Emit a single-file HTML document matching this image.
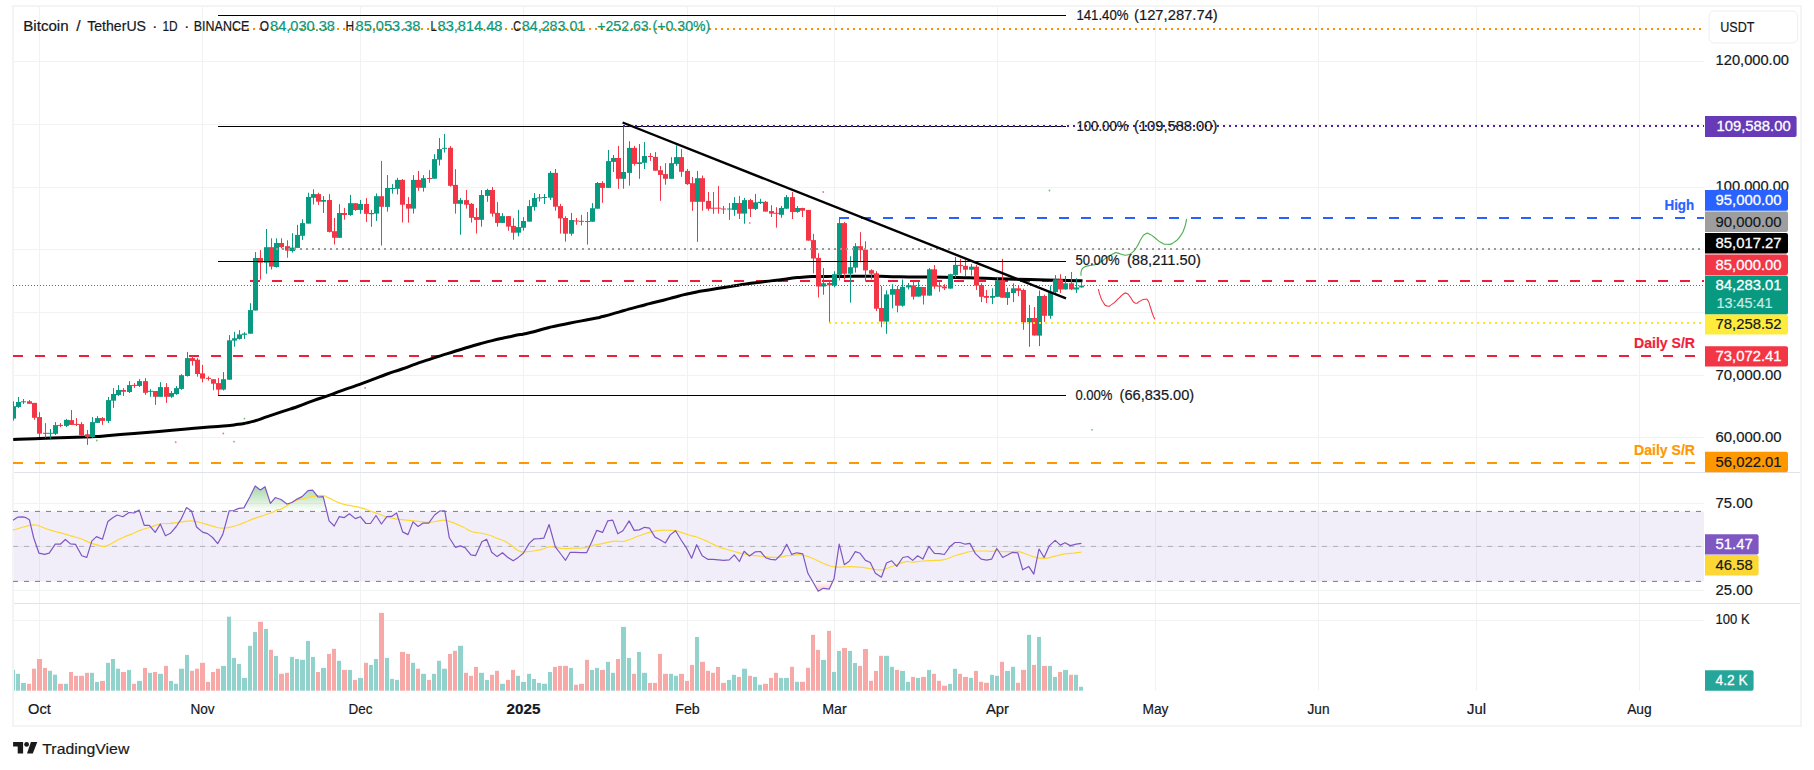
<!DOCTYPE html>
<html><head><meta charset="utf-8"><title>BTCUSDT</title><style>html,body{margin:0;padding:0;background:#fff}svg{display:block}</style></head><body><svg width="1814" height="770" viewBox="0 0 1814 770" font-family="Liberation Sans, sans-serif" shape-rendering="auto">
<rect width="1814" height="770" fill="#fff"/>
<rect x="13" y="6" width="1788" height="720" fill="none" stroke="#f4f4f4" stroke-width="2"/>
<line x1="39.5" y1="7" x2="39.5" y2="690.5" stroke="#f1f3f3" stroke-width="1"/>
<line x1="202.5" y1="7" x2="202.5" y2="690.5" stroke="#f1f3f3" stroke-width="1"/>
<line x1="360.5" y1="7" x2="360.5" y2="690.5" stroke="#f1f3f3" stroke-width="1"/>
<line x1="523.5" y1="7" x2="523.5" y2="690.5" stroke="#f1f3f3" stroke-width="1"/>
<line x1="687.5" y1="7" x2="687.5" y2="690.5" stroke="#f1f3f3" stroke-width="1"/>
<line x1="834.5" y1="7" x2="834.5" y2="690.5" stroke="#f1f3f3" stroke-width="1"/>
<line x1="997.5" y1="7" x2="997.5" y2="690.5" stroke="#f1f3f3" stroke-width="1"/>
<line x1="1155.5" y1="7" x2="1155.5" y2="690.5" stroke="#f1f3f3" stroke-width="1"/>
<line x1="1318.5" y1="7" x2="1318.5" y2="690.5" stroke="#f1f3f3" stroke-width="1"/>
<line x1="1476.5" y1="7" x2="1476.5" y2="690.5" stroke="#f1f3f3" stroke-width="1"/>
<line x1="1639.5" y1="7" x2="1639.5" y2="690.5" stroke="#f1f3f3" stroke-width="1"/>
<line x1="14.0" y1="61.5" x2="1704.0" y2="61.5" stroke="#f1f3f3" stroke-width="1" />
<line x1="14.0" y1="124.5" x2="1704.0" y2="124.5" stroke="#f1f3f3" stroke-width="1" />
<line x1="14.0" y1="187.5" x2="1704.0" y2="187.5" stroke="#f1f3f3" stroke-width="1" />
<line x1="14.0" y1="249.5" x2="1704.0" y2="249.5" stroke="#f1f3f3" stroke-width="1" />
<line x1="14.0" y1="312.5" x2="1704.0" y2="312.5" stroke="#f1f3f3" stroke-width="1" />
<line x1="14.0" y1="375.5" x2="1704.0" y2="375.5" stroke="#f1f3f3" stroke-width="1" />
<line x1="14.0" y1="437.5" x2="1704.0" y2="437.5" stroke="#f1f3f3" stroke-width="1" />
<line x1="14.0" y1="503.5" x2="1704.0" y2="503.5" stroke="#f1f3f3" stroke-width="1" />
<line x1="14.0" y1="546.5" x2="1704.0" y2="546.5" stroke="#f1f3f3" stroke-width="1" />
<line x1="14.0" y1="590.5" x2="1704.0" y2="590.5" stroke="#f1f3f3" stroke-width="1" />
<line x1="14.0" y1="620.5" x2="1704.0" y2="620.5" stroke="#f1f3f3" stroke-width="1" />
<line x1="14.0" y1="472.5" x2="1800.0" y2="472.5" stroke="#e0e3eb" stroke-width="1" />
<line x1="14.0" y1="603.5" x2="1800.0" y2="603.5" stroke="#e0e3eb" stroke-width="1" />
<rect x="14" y="511.4" width="1690" height="70.0" fill="#7e57c2" fill-opacity="0.1"/>
<defs><linearGradient id="gob" gradientUnits="userSpaceOnUse" x1="0" y1="484" x2="0" y2="511.4"><stop offset="0" stop-color="#4caf50" stop-opacity="0.55"/><stop offset="1" stop-color="#4caf50" stop-opacity="0"/></linearGradient><linearGradient id="gos" gradientUnits="userSpaceOnUse" x1="0" y1="581.4" x2="0" y2="592"><stop offset="0" stop-color="#f23645" stop-opacity="0"/><stop offset="1" stop-color="#f23645" stop-opacity="0.3"/></linearGradient><clipPath id="cob"><rect x="0" y="470" width="1814" height="41.39999999999998"/></clipPath><clipPath id="cos"><rect x="0" y="581.4" width="1814" height="30"/></clipPath></defs>
<g clip-path="url(#cob)"><rect x="0" y="485" width="0" height="0"/><path d="M13.0,520.3 L17.6,517.2 L22.7,516.9 L26.0,517.7 L29.4,519.7 L33.6,537.5 L39.0,553.2 L44.6,554.4 L49.2,553.2 L55.3,544.2 L60.3,544.2 L65.4,539.5 L70.5,543.9 L75.5,544.4 L81.8,555.7 L86.8,557.4 L91.9,540.9 L96.5,536.6 L102.5,539.2 L107.9,521.4 L112.7,517.7 L117.2,515.0 L122.8,516.7 L129.0,512.5 L134.1,513.0 L139.2,510.1 L144.2,525.3 L149.3,525.3 L155.2,532.4 L160.3,524.0 L165.4,535.8 L170.4,533.3 L176.3,526.5 L181.4,518.6 L186.5,507.6 L191.5,511.0 L196.6,527.0 L202.5,532.1 L207.6,533.6 L212.6,537.5 L217.7,543.7 L222.8,534.4 L229.2,510.8 L233.7,510.5 L238.8,508.4 L243.9,507.9 L249.8,497.0 L255.2,486.0 L260.3,489.9 L265.0,486.8 L270.4,503.4 L275.1,497.8 L275.1,497.5 L281.0,499.5 L286.9,504.0 L292.0,502.5 L297.0,499.1 L302.1,496.6 L308.0,490.7 L312.6,490.2 L318.1,497.0 L323.2,496.6 L329.1,520.9 L334.2,526.0 L339.2,516.7 L344.3,517.6 L349.4,513.8 L355.3,518.6 L360.3,516.7 L365.9,523.5 L370.5,523.5 L376.0,515.5 L381.4,524.0 L386.9,516.7 L391.6,516.4 L396.6,513.0 L402.6,531.9 L408.0,534.6 L413.0,521.9 L418.1,526.5 L423.2,523.1 L428.7,523.1 L434.6,515.0 L439.7,511.0 L444.8,510.8 L449.3,537.8 L455.4,547.3 L460.3,545.9 L465.0,547.6 L470.9,554.9 L475.5,555.7 L481.9,541.7 L486.6,539.2 L491.7,552.2 L497.1,556.6 L502.5,552.7 L507.6,557.2 L513.2,560.8 L518.2,557.4 L523.3,553.2 L529.2,543.4 L534.2,538.8 L539.3,538.7 L543.8,538.2 L549.1,524.5 L555.3,546.8 L560.4,553.5 L565.5,560.3 L570.2,552.3 L575.6,552.3 L580.7,552.7 L586.6,552.7 L591.6,542.2 L596.7,530.4 L602.6,532.4 L607.7,520.9 L612.7,520.1 L617.8,533.8 L622.9,530.7 L629.1,520.9 L634.2,530.4 L639.3,529.9 L644.5,527.3 L649.6,528.2 L655.0,537.1 L660.0,539.7 L665.4,542.9 L670.2,534.9 L675.6,530.7 L681.1,540.0 L686.2,547.6 L691.6,558.2 L696.7,544.7 L702.2,555.7 L708.1,559.4 L713.2,559.4 L718.3,559.8 L723.7,560.3 L729.3,559.9 L734.3,554.9 L739.4,561.5 L744.1,551.3 L749.5,556.1 L755.4,551.8 L760.5,551.5 L765.6,557.7 L770.6,559.4 L775.7,559.9 L781.6,554.0 L786.7,544.2 L791.7,554.4 L796.8,552.7 L797.2,552.8 L802.8,553.9 L807.9,573.3 L813.1,582.3 L818.2,591.2 L823.3,588.3 L829.3,589.1 L834.1,578.4 L839.2,544.2 L844.3,564.7 L849.3,561.3 L855.3,551.6 L860.1,553.3 L865.5,560.4 L870.3,562.5 L875.4,573.3 L881.4,577.2 L886.5,563.0 L891.7,560.8 L896.8,566.4 L902.8,557.5 L907.9,556.5 L912.7,560.4 L917.6,555.8 L922.9,559.1 L928.8,546.4 L934.4,553.3 L939.5,553.6 L944.3,554.5 L949.8,546.8 L954.9,542.5 L960.0,542.5 L965.2,544.2 L969.9,543.4 L975.4,553.6 L981.4,559.2 L986.5,560.1 L991.6,559.2 L996.8,548.5 L1002.7,557.5 L1007.9,554.8 L1012.1,552.4 L1017.8,552.8 L1022.7,569.8 L1028.7,566.4 L1033.8,574.1 L1039.0,549.0 L1044.1,557.5 L1049.2,545.9 L1055.2,540.4 L1060.3,545.1 L1065.1,542.8 L1070.2,545.6 L1076.2,544.2 L1081.4,543.4 L1081.4,511.4 L13.0,511.4 Z" fill="url(#gob)"/></g>
<g clip-path="url(#cos)"><path d="M13.0,520.3 L17.6,517.2 L22.7,516.9 L26.0,517.7 L29.4,519.7 L33.6,537.5 L39.0,553.2 L44.6,554.4 L49.2,553.2 L55.3,544.2 L60.3,544.2 L65.4,539.5 L70.5,543.9 L75.5,544.4 L81.8,555.7 L86.8,557.4 L91.9,540.9 L96.5,536.6 L102.5,539.2 L107.9,521.4 L112.7,517.7 L117.2,515.0 L122.8,516.7 L129.0,512.5 L134.1,513.0 L139.2,510.1 L144.2,525.3 L149.3,525.3 L155.2,532.4 L160.3,524.0 L165.4,535.8 L170.4,533.3 L176.3,526.5 L181.4,518.6 L186.5,507.6 L191.5,511.0 L196.6,527.0 L202.5,532.1 L207.6,533.6 L212.6,537.5 L217.7,543.7 L222.8,534.4 L229.2,510.8 L233.7,510.5 L238.8,508.4 L243.9,507.9 L249.8,497.0 L255.2,486.0 L260.3,489.9 L265.0,486.8 L270.4,503.4 L275.1,497.8 L275.1,497.5 L281.0,499.5 L286.9,504.0 L292.0,502.5 L297.0,499.1 L302.1,496.6 L308.0,490.7 L312.6,490.2 L318.1,497.0 L323.2,496.6 L329.1,520.9 L334.2,526.0 L339.2,516.7 L344.3,517.6 L349.4,513.8 L355.3,518.6 L360.3,516.7 L365.9,523.5 L370.5,523.5 L376.0,515.5 L381.4,524.0 L386.9,516.7 L391.6,516.4 L396.6,513.0 L402.6,531.9 L408.0,534.6 L413.0,521.9 L418.1,526.5 L423.2,523.1 L428.7,523.1 L434.6,515.0 L439.7,511.0 L444.8,510.8 L449.3,537.8 L455.4,547.3 L460.3,545.9 L465.0,547.6 L470.9,554.9 L475.5,555.7 L481.9,541.7 L486.6,539.2 L491.7,552.2 L497.1,556.6 L502.5,552.7 L507.6,557.2 L513.2,560.8 L518.2,557.4 L523.3,553.2 L529.2,543.4 L534.2,538.8 L539.3,538.7 L543.8,538.2 L549.1,524.5 L555.3,546.8 L560.4,553.5 L565.5,560.3 L570.2,552.3 L575.6,552.3 L580.7,552.7 L586.6,552.7 L591.6,542.2 L596.7,530.4 L602.6,532.4 L607.7,520.9 L612.7,520.1 L617.8,533.8 L622.9,530.7 L629.1,520.9 L634.2,530.4 L639.3,529.9 L644.5,527.3 L649.6,528.2 L655.0,537.1 L660.0,539.7 L665.4,542.9 L670.2,534.9 L675.6,530.7 L681.1,540.0 L686.2,547.6 L691.6,558.2 L696.7,544.7 L702.2,555.7 L708.1,559.4 L713.2,559.4 L718.3,559.8 L723.7,560.3 L729.3,559.9 L734.3,554.9 L739.4,561.5 L744.1,551.3 L749.5,556.1 L755.4,551.8 L760.5,551.5 L765.6,557.7 L770.6,559.4 L775.7,559.9 L781.6,554.0 L786.7,544.2 L791.7,554.4 L796.8,552.7 L797.2,552.8 L802.8,553.9 L807.9,573.3 L813.1,582.3 L818.2,591.2 L823.3,588.3 L829.3,589.1 L834.1,578.4 L839.2,544.2 L844.3,564.7 L849.3,561.3 L855.3,551.6 L860.1,553.3 L865.5,560.4 L870.3,562.5 L875.4,573.3 L881.4,577.2 L886.5,563.0 L891.7,560.8 L896.8,566.4 L902.8,557.5 L907.9,556.5 L912.7,560.4 L917.6,555.8 L922.9,559.1 L928.8,546.4 L934.4,553.3 L939.5,553.6 L944.3,554.5 L949.8,546.8 L954.9,542.5 L960.0,542.5 L965.2,544.2 L969.9,543.4 L975.4,553.6 L981.4,559.2 L986.5,560.1 L991.6,559.2 L996.8,548.5 L1002.7,557.5 L1007.9,554.8 L1012.1,552.4 L1017.8,552.8 L1022.7,569.8 L1028.7,566.4 L1033.8,574.1 L1039.0,549.0 L1044.1,557.5 L1049.2,545.9 L1055.2,540.4 L1060.3,545.1 L1065.1,542.8 L1070.2,545.6 L1076.2,544.2 L1081.4,543.4 L1081.4,581.4 L13.0,581.4 Z" fill="url(#gos)"/></g>
<line x1="13.0" y1="511.4" x2="1704.0" y2="511.4" stroke="#787b86" stroke-width="1" stroke-dasharray="5 6" />
<line x1="13.0" y1="546.4" x2="1704.0" y2="546.4" stroke="#787b86" stroke-width="1" stroke-dasharray="5 6" stroke-opacity="0.5"/>
<line x1="13.0" y1="581.4" x2="1704.0" y2="581.4" stroke="#787b86" stroke-width="1" stroke-dasharray="5 6" />
<path d="M13.0 530.2C15.8 529.4 18.0 528.5 23.5 527.0C29.0 525.6 29.1 524.9 33.6 524.8C38.1 524.7 36.1 525.2 40.4 526.5C44.7 527.9 44.3 528.2 49.7 529.9C55.1 531.6 55.0 531.3 60.7 532.9C66.3 534.5 65.4 534.2 70.8 535.8C76.2 537.4 75.5 536.9 80.9 538.8C86.3 540.8 85.4 541.1 91.1 543.1C96.7 545.0 97.8 545.6 102.0 546.3C106.3 546.9 103.7 546.8 107.1 545.6C110.5 544.4 110.4 543.9 114.7 541.7C119.0 539.5 118.6 539.5 123.1 537.5C127.6 535.5 127.1 536.0 131.6 534.1C136.1 532.2 135.1 532.2 140.0 530.4C145.0 528.6 144.8 529.1 150.2 527.3C155.6 525.6 155.3 525.0 160.3 524.0C165.2 522.9 163.8 523.9 168.7 523.5C173.7 523.0 173.9 522.9 178.9 522.3C183.8 521.7 183.5 521.4 187.3 521.1C191.1 520.8 189.2 520.6 193.2 521.1C197.3 521.6 197.3 521.8 202.5 523.1C207.7 524.5 207.2 524.8 212.6 526.2C218.0 527.5 217.4 528.1 222.8 528.2C228.2 528.3 227.5 527.9 232.9 526.5C238.3 525.2 237.6 525.2 243.0 523.1C248.4 521.1 247.8 520.9 253.2 518.9C258.6 516.9 258.3 517.2 263.3 515.5C268.2 513.8 267.9 514.1 271.7 512.5C275.6 510.9 275.4 510.4 277.6 509.6C279.9 508.9 277.7 510.7 280.1 509.6C282.6 508.6 282.8 508.1 286.9 505.7C290.9 503.4 290.8 502.7 295.3 500.8C299.8 498.9 298.8 499.9 303.8 498.6C308.7 497.4 308.7 496.9 313.9 496.1C319.1 495.3 319.1 495.1 323.2 495.6C327.2 496.1 324.8 496.2 329.1 498.1C333.4 500.1 333.8 500.9 339.2 502.9C344.6 504.8 343.7 504.1 349.4 505.4C355.0 506.7 354.7 506.1 360.3 507.6C366.0 509.1 365.7 509.3 370.5 511.0C375.2 512.6 373.3 512.2 378.1 513.8C382.8 515.5 382.8 515.8 388.2 517.2C393.6 518.7 392.9 518.4 398.3 519.2C403.7 520.1 403.1 519.7 408.5 520.3C413.9 520.8 413.2 520.9 418.6 521.4C424.0 522.0 423.3 522.4 428.7 522.3C434.1 522.1 434.6 521.5 438.9 520.9C443.1 520.4 440.7 519.7 444.8 520.3C448.8 520.8 449.3 521.4 454.1 523.1C458.8 524.9 458.0 524.7 462.5 526.8C467.0 529.0 467.5 529.7 470.9 531.2C474.4 532.7 472.6 531.9 475.5 532.4C478.4 533.0 478.2 532.5 481.9 533.3C485.7 534.0 485.5 533.9 489.5 535.3C493.6 536.6 493.1 536.7 497.1 538.3C501.2 539.9 500.9 539.3 504.7 541.2C508.5 543.1 507.9 543.1 511.5 545.6C515.1 548.1 514.6 548.8 518.2 550.5C521.8 552.1 519.6 551.9 525.0 551.8C530.4 551.7 533.3 551.0 538.4 550.1C543.6 549.2 541.5 549.4 544.4 548.5C547.2 547.6 546.2 547.1 549.1 546.8C552.0 546.5 551.4 546.8 555.3 547.3C559.2 547.7 558.8 548.2 563.8 548.5C568.7 548.7 569.4 548.2 573.9 548.1C578.4 548.0 577.3 548.3 580.7 548.1C584.0 547.9 582.3 548.2 586.6 547.3C590.8 546.3 592.4 545.5 596.7 544.6C601.0 543.6 598.3 544.6 602.6 543.7C606.9 542.9 607.3 542.0 612.7 541.4C618.1 540.7 618.5 541.8 622.9 541.4C627.2 540.9 624.8 541.2 629.1 539.7C633.5 538.2 633.8 537.7 639.3 535.8C644.7 533.9 644.0 533.9 649.6 532.4C655.1 531.0 654.5 530.9 660.0 530.4C665.5 529.8 666.0 530.3 670.2 530.4C674.3 530.5 671.3 529.7 675.6 530.7C679.8 531.7 681.9 532.8 686.2 534.1C690.5 535.5 688.8 535.0 691.6 535.8C694.4 536.6 692.3 535.4 696.7 537.0C701.1 538.5 702.4 539.1 708.1 541.7C713.9 544.3 714.1 545.0 718.3 546.8C722.4 548.6 719.4 547.2 723.7 548.5C728.0 549.7 728.9 550.0 734.3 551.5C739.8 553.0 738.5 552.9 744.1 554.0C749.7 555.2 749.7 555.0 755.4 555.7C761.1 556.4 760.8 556.1 765.6 556.6C770.3 557.0 768.9 557.3 773.2 557.4C777.4 557.5 778.0 557.3 781.6 556.9C785.2 556.4 784.4 556.0 786.7 555.7C788.9 555.4 787.3 555.9 790.0 555.7C792.7 555.4 793.4 555.0 796.8 554.8C800.3 554.6 799.2 554.2 802.8 555.0C806.5 555.7 806.4 555.9 810.5 557.5C814.6 559.1 814.1 559.1 818.2 561.0C822.3 562.8 821.6 562.8 825.9 564.4C830.1 566.0 829.1 566.3 834.1 566.9C839.1 567.6 839.0 566.8 844.7 566.8C850.3 566.7 849.7 566.5 855.3 566.8C860.8 567.0 860.2 567.1 865.5 567.8C870.9 568.5 871.2 569.0 875.4 569.5C879.7 570.0 878.5 570.1 881.4 569.8C884.4 569.6 882.4 569.8 886.5 568.5C890.6 567.1 891.6 566.5 896.8 564.7C902.0 562.9 902.0 562.3 906.2 561.6C910.4 561.0 908.1 562.3 912.7 562.1C917.2 562.0 917.5 561.4 923.3 561.0C929.1 560.5 928.8 560.8 934.4 560.4C940.0 560.1 938.8 560.8 944.3 559.6C949.8 558.4 949.3 557.6 954.9 555.8C960.5 554.0 960.8 553.9 965.2 552.8C969.5 551.6 968.4 551.8 971.1 551.4C973.9 550.9 971.3 551.1 975.4 551.0C979.5 551.0 982.2 551.0 986.5 551.0C990.8 551.1 988.9 551.5 991.6 551.4C994.4 551.3 993.8 550.7 996.8 550.7C999.7 550.7 998.6 551.3 1002.7 551.6C1006.8 551.8 1008.0 551.6 1012.1 551.6C1016.2 551.5 1014.0 550.6 1018.1 551.4C1022.2 552.2 1023.2 553.0 1027.5 554.5C1031.9 556.0 1029.8 556.0 1034.4 557.0C1038.9 558.1 1039.1 558.6 1044.6 558.4C1050.1 558.2 1049.4 557.4 1054.9 556.2C1060.3 555.0 1060.1 554.8 1065.1 553.9C1070.1 553.1 1069.3 553.5 1073.7 553.1C1078.0 552.6 1079.3 552.5 1081.4 552.2" fill="none" stroke="#fdd835" stroke-width="1.2" stroke-linejoin="round"/>
<polyline points="13.0,520.3 17.6,517.2 22.7,516.9 26.0,517.7 29.4,519.7 33.6,537.5 39.0,553.2 44.6,554.4 49.2,553.2 55.3,544.2 60.3,544.2 65.4,539.5 70.5,543.9 75.5,544.4 81.8,555.7 86.8,557.4 91.9,540.9 96.5,536.6 102.5,539.2 107.9,521.4 112.7,517.7 117.2,515.0 122.8,516.7 129.0,512.5 134.1,513.0 139.2,510.1 144.2,525.3 149.3,525.3 155.2,532.4 160.3,524.0 165.4,535.8 170.4,533.3 176.3,526.5 181.4,518.6 186.5,507.6 191.5,511.0 196.6,527.0 202.5,532.1 207.6,533.6 212.6,537.5 217.7,543.7 222.8,534.4 229.2,510.8 233.7,510.5 238.8,508.4 243.9,507.9 249.8,497.0 255.2,486.0 260.3,489.9 265.0,486.8 270.4,503.4 275.1,497.8 275.1,497.5 281.0,499.5 286.9,504.0 292.0,502.5 297.0,499.1 302.1,496.6 308.0,490.7 312.6,490.2 318.1,497.0 323.2,496.6 329.1,520.9 334.2,526.0 339.2,516.7 344.3,517.6 349.4,513.8 355.3,518.6 360.3,516.7 365.9,523.5 370.5,523.5 376.0,515.5 381.4,524.0 386.9,516.7 391.6,516.4 396.6,513.0 402.6,531.9 408.0,534.6 413.0,521.9 418.1,526.5 423.2,523.1 428.7,523.1 434.6,515.0 439.7,511.0 444.8,510.8 449.3,537.8 455.4,547.3 460.3,545.9 465.0,547.6 470.9,554.9 475.5,555.7 481.9,541.7 486.6,539.2 491.7,552.2 497.1,556.6 502.5,552.7 507.6,557.2 513.2,560.8 518.2,557.4 523.3,553.2 529.2,543.4 534.2,538.8 539.3,538.7 543.8,538.2 549.1,524.5 555.3,546.8 560.4,553.5 565.5,560.3 570.2,552.3 575.6,552.3 580.7,552.7 586.6,552.7 591.6,542.2 596.7,530.4 602.6,532.4 607.7,520.9 612.7,520.1 617.8,533.8 622.9,530.7 629.1,520.9 634.2,530.4 639.3,529.9 644.5,527.3 649.6,528.2 655.0,537.1 660.0,539.7 665.4,542.9 670.2,534.9 675.6,530.7 681.1,540.0 686.2,547.6 691.6,558.2 696.7,544.7 702.2,555.7 708.1,559.4 713.2,559.4 718.3,559.8 723.7,560.3 729.3,559.9 734.3,554.9 739.4,561.5 744.1,551.3 749.5,556.1 755.4,551.8 760.5,551.5 765.6,557.7 770.6,559.4 775.7,559.9 781.6,554.0 786.7,544.2 791.7,554.4 796.8,552.7 797.2,552.8 802.8,553.9 807.9,573.3 813.1,582.3 818.2,591.2 823.3,588.3 829.3,589.1 834.1,578.4 839.2,544.2 844.3,564.7 849.3,561.3 855.3,551.6 860.1,553.3 865.5,560.4 870.3,562.5 875.4,573.3 881.4,577.2 886.5,563.0 891.7,560.8 896.8,566.4 902.8,557.5 907.9,556.5 912.7,560.4 917.6,555.8 922.9,559.1 928.8,546.4 934.4,553.3 939.5,553.6 944.3,554.5 949.8,546.8 954.9,542.5 960.0,542.5 965.2,544.2 969.9,543.4 975.4,553.6 981.4,559.2 986.5,560.1 991.6,559.2 996.8,548.5 1002.7,557.5 1007.9,554.8 1012.1,552.4 1017.8,552.8 1022.7,569.8 1028.7,566.4 1033.8,574.1 1039.0,549.0 1044.1,557.5 1049.2,545.9 1055.2,540.4 1060.3,545.1 1065.1,542.8 1070.2,545.6 1076.2,544.2 1081.4,543.4" fill="none" stroke="#7e57c2" stroke-width="1.2" stroke-linejoin="round"/>
<rect x="14.0" y="669.9" width="1.0" height="20.8" fill="#92d2cc"/>
<rect x="16.0" y="673.8" width="4.0" height="16.9" fill="#92d2cc"/>
<rect x="21.0" y="682.9" width="5.0" height="7.8" fill="#92d2cc"/>
<rect x="27.0" y="683.8" width="4.0" height="6.9" fill="#f7a9a7"/>
<rect x="32.0" y="668.7" width="4.0" height="22.0" fill="#f7a9a7"/>
<rect x="37.0" y="659.0" width="5.0" height="31.7" fill="#f7a9a7"/>
<rect x="43.0" y="667.9" width="4.0" height="22.8" fill="#f7a9a7"/>
<rect x="48.0" y="670.8" width="4.0" height="19.9" fill="#92d2cc"/>
<rect x="53.0" y="674.7" width="4.0" height="16.0" fill="#92d2cc"/>
<rect x="58.0" y="683.8" width="5.0" height="6.9" fill="#f7a9a7"/>
<rect x="64.0" y="683.8" width="4.0" height="6.9" fill="#92d2cc"/>
<rect x="69.0" y="672.0" width="4.0" height="18.7" fill="#f7a9a7"/>
<rect x="74.0" y="675.8" width="4.0" height="14.9" fill="#f7a9a7"/>
<rect x="79.0" y="675.8" width="5.0" height="14.9" fill="#f7a9a7"/>
<rect x="85.0" y="672.8" width="4.0" height="17.9" fill="#f7a9a7"/>
<rect x="90.0" y="672.8" width="4.0" height="17.9" fill="#92d2cc"/>
<rect x="95.0" y="681.9" width="4.0" height="8.8" fill="#92d2cc"/>
<rect x="100.0" y="680.9" width="5.0" height="9.8" fill="#f7a9a7"/>
<rect x="106.0" y="662.8" width="4.0" height="27.9" fill="#92d2cc"/>
<rect x="111.0" y="659.0" width="4.0" height="31.7" fill="#92d2cc"/>
<rect x="116.0" y="668.7" width="4.0" height="22.0" fill="#92d2cc"/>
<rect x="121.0" y="672.0" width="5.0" height="18.7" fill="#f7a9a7"/>
<rect x="127.0" y="669.9" width="4.0" height="20.8" fill="#92d2cc"/>
<rect x="132.0" y="683.8" width="4.0" height="6.9" fill="#f7a9a7"/>
<rect x="137.0" y="680.9" width="5.0" height="9.8" fill="#92d2cc"/>
<rect x="143.0" y="667.9" width="4.0" height="22.8" fill="#f7a9a7"/>
<rect x="148.0" y="672.8" width="4.0" height="17.9" fill="#92d2cc"/>
<rect x="153.0" y="672.0" width="4.0" height="18.7" fill="#f7a9a7"/>
<rect x="158.0" y="673.8" width="5.0" height="16.9" fill="#92d2cc"/>
<rect x="164.0" y="665.9" width="4.0" height="24.8" fill="#f7a9a7"/>
<rect x="169.0" y="680.9" width="4.0" height="9.8" fill="#92d2cc"/>
<rect x="174.0" y="683.8" width="4.0" height="6.9" fill="#92d2cc"/>
<rect x="179.0" y="668.7" width="5.0" height="22.0" fill="#92d2cc"/>
<rect x="185.0" y="654.9" width="4.0" height="35.8" fill="#92d2cc"/>
<rect x="190.0" y="670.8" width="4.0" height="19.9" fill="#f7a9a7"/>
<rect x="195.0" y="668.7" width="4.0" height="22.0" fill="#f7a9a7"/>
<rect x="200.0" y="662.8" width="5.0" height="27.9" fill="#f7a9a7"/>
<rect x="206.0" y="681.9" width="4.0" height="8.8" fill="#f7a9a7"/>
<rect x="211.0" y="672.0" width="4.0" height="18.7" fill="#f7a9a7"/>
<rect x="216.0" y="668.7" width="4.0" height="22.0" fill="#f7a9a7"/>
<rect x="221.0" y="665.9" width="5.0" height="24.8" fill="#92d2cc"/>
<rect x="227.0" y="616.7" width="4.0" height="74.0" fill="#92d2cc"/>
<rect x="232.0" y="657.9" width="4.0" height="32.8" fill="#92d2cc"/>
<rect x="237.0" y="663.9" width="4.0" height="26.8" fill="#92d2cc"/>
<rect x="242.0" y="677.9" width="5.0" height="12.8" fill="#92d2cc"/>
<rect x="248.0" y="645.8" width="4.0" height="44.9" fill="#92d2cc"/>
<rect x="253.0" y="631.9" width="4.0" height="58.8" fill="#92d2cc"/>
<rect x="258.0" y="621.8" width="5.0" height="68.9" fill="#f7a9a7"/>
<rect x="264.0" y="628.9" width="4.0" height="61.8" fill="#92d2cc"/>
<rect x="269.0" y="649.8" width="4.0" height="40.9" fill="#f7a9a7"/>
<rect x="274.0" y="655.9" width="4.0" height="34.8" fill="#92d2cc"/>
<rect x="279.0" y="673.8" width="5.0" height="16.9" fill="#f7a9a7"/>
<rect x="285.0" y="672.8" width="4.0" height="17.9" fill="#f7a9a7"/>
<rect x="290.0" y="656.9" width="4.0" height="33.8" fill="#92d2cc"/>
<rect x="295.0" y="659.0" width="4.0" height="31.7" fill="#92d2cc"/>
<rect x="300.0" y="659.8" width="5.0" height="30.9" fill="#92d2cc"/>
<rect x="306.0" y="640.9" width="4.0" height="49.8" fill="#92d2cc"/>
<rect x="311.0" y="656.9" width="4.0" height="33.8" fill="#92d2cc"/>
<rect x="316.0" y="672.0" width="4.0" height="18.7" fill="#f7a9a7"/>
<rect x="321.0" y="667.9" width="5.0" height="22.8" fill="#92d2cc"/>
<rect x="327.0" y="653.9" width="4.0" height="36.8" fill="#f7a9a7"/>
<rect x="332.0" y="648.8" width="4.0" height="41.9" fill="#f7a9a7"/>
<rect x="337.0" y="660.8" width="4.0" height="29.9" fill="#92d2cc"/>
<rect x="342.0" y="669.9" width="5.0" height="20.8" fill="#f7a9a7"/>
<rect x="348.0" y="669.9" width="4.0" height="20.8" fill="#92d2cc"/>
<rect x="353.0" y="679.9" width="4.0" height="10.8" fill="#f7a9a7"/>
<rect x="358.0" y="677.9" width="5.0" height="12.8" fill="#92d2cc"/>
<rect x="364.0" y="662.8" width="4.0" height="27.9" fill="#f7a9a7"/>
<rect x="369.0" y="664.9" width="4.0" height="25.8" fill="#92d2cc"/>
<rect x="374.0" y="659.0" width="4.0" height="31.7" fill="#92d2cc"/>
<rect x="379.0" y="612.9" width="5.0" height="77.8" fill="#f7a9a7"/>
<rect x="385.0" y="657.9" width="4.0" height="32.8" fill="#92d2cc"/>
<rect x="390.0" y="678.9" width="4.0" height="11.8" fill="#92d2cc"/>
<rect x="395.0" y="679.9" width="4.0" height="10.8" fill="#92d2cc"/>
<rect x="400.0" y="651.9" width="5.0" height="38.8" fill="#f7a9a7"/>
<rect x="406.0" y="653.9" width="4.0" height="36.8" fill="#f7a9a7"/>
<rect x="411.0" y="662.8" width="4.0" height="27.9" fill="#92d2cc"/>
<rect x="416.0" y="668.7" width="4.0" height="22.0" fill="#f7a9a7"/>
<rect x="421.0" y="673.8" width="5.0" height="16.9" fill="#92d2cc"/>
<rect x="427.0" y="679.9" width="4.0" height="10.8" fill="#f7a9a7"/>
<rect x="432.0" y="673.8" width="4.0" height="16.9" fill="#92d2cc"/>
<rect x="437.0" y="660.8" width="4.0" height="29.9" fill="#92d2cc"/>
<rect x="442.0" y="668.7" width="5.0" height="22.0" fill="#92d2cc"/>
<rect x="448.0" y="653.9" width="4.0" height="36.8" fill="#f7a9a7"/>
<rect x="453.0" y="650.8" width="4.0" height="39.9" fill="#f7a9a7"/>
<rect x="458.0" y="645.8" width="5.0" height="44.9" fill="#92d2cc"/>
<rect x="464.0" y="672.8" width="4.0" height="17.9" fill="#f7a9a7"/>
<rect x="469.0" y="675.8" width="4.0" height="14.9" fill="#f7a9a7"/>
<rect x="474.0" y="666.9" width="4.0" height="23.8" fill="#f7a9a7"/>
<rect x="479.0" y="672.8" width="5.0" height="17.9" fill="#92d2cc"/>
<rect x="485.0" y="679.9" width="4.0" height="10.8" fill="#92d2cc"/>
<rect x="490.0" y="674.8" width="4.0" height="15.9" fill="#f7a9a7"/>
<rect x="495.0" y="670.8" width="4.0" height="19.9" fill="#f7a9a7"/>
<rect x="500.0" y="683.8" width="5.0" height="6.9" fill="#92d2cc"/>
<rect x="506.0" y="679.9" width="4.0" height="10.8" fill="#f7a9a7"/>
<rect x="511.0" y="669.9" width="4.0" height="20.8" fill="#f7a9a7"/>
<rect x="516.0" y="675.8" width="4.0" height="14.9" fill="#92d2cc"/>
<rect x="521.0" y="681.9" width="5.0" height="8.8" fill="#92d2cc"/>
<rect x="527.0" y="673.8" width="4.0" height="16.9" fill="#92d2cc"/>
<rect x="532.0" y="678.9" width="4.0" height="11.8" fill="#92d2cc"/>
<rect x="537.0" y="682.9" width="4.0" height="7.8" fill="#92d2cc"/>
<rect x="542.0" y="683.8" width="5.0" height="6.9" fill="#92d2cc"/>
<rect x="548.0" y="672.0" width="4.0" height="18.7" fill="#92d2cc"/>
<rect x="553.0" y="666.9" width="4.0" height="23.8" fill="#f7a9a7"/>
<rect x="558.0" y="665.9" width="4.0" height="24.8" fill="#f7a9a7"/>
<rect x="563.0" y="665.9" width="5.0" height="24.8" fill="#f7a9a7"/>
<rect x="569.0" y="667.9" width="4.0" height="22.8" fill="#92d2cc"/>
<rect x="574.0" y="684.8" width="4.0" height="5.9" fill="#f7a9a7"/>
<rect x="579.0" y="683.8" width="5.0" height="6.9" fill="#f7a9a7"/>
<rect x="585.0" y="659.8" width="4.0" height="30.9" fill="#f7a9a7"/>
<rect x="590.0" y="669.9" width="4.0" height="20.8" fill="#92d2cc"/>
<rect x="595.0" y="667.9" width="4.0" height="22.8" fill="#92d2cc"/>
<rect x="600.0" y="669.9" width="5.0" height="20.8" fill="#f7a9a7"/>
<rect x="606.0" y="661.8" width="4.0" height="28.9" fill="#92d2cc"/>
<rect x="611.0" y="672.8" width="4.0" height="17.9" fill="#92d2cc"/>
<rect x="616.0" y="659.0" width="4.0" height="31.7" fill="#f7a9a7"/>
<rect x="621.0" y="626.9" width="5.0" height="63.8" fill="#92d2cc"/>
<rect x="627.0" y="657.9" width="4.0" height="32.8" fill="#92d2cc"/>
<rect x="632.0" y="673.8" width="4.0" height="16.9" fill="#f7a9a7"/>
<rect x="637.0" y="651.9" width="4.0" height="38.8" fill="#92d2cc"/>
<rect x="642.0" y="672.8" width="5.0" height="17.9" fill="#92d2cc"/>
<rect x="648.0" y="682.9" width="4.0" height="7.8" fill="#f7a9a7"/>
<rect x="653.0" y="682.9" width="4.0" height="7.8" fill="#f7a9a7"/>
<rect x="658.0" y="653.9" width="4.0" height="36.8" fill="#f7a9a7"/>
<rect x="663.0" y="673.8" width="5.0" height="16.9" fill="#f7a9a7"/>
<rect x="669.0" y="673.8" width="4.0" height="16.9" fill="#92d2cc"/>
<rect x="674.0" y="675.8" width="4.0" height="14.9" fill="#92d2cc"/>
<rect x="679.0" y="673.8" width="5.0" height="16.9" fill="#f7a9a7"/>
<rect x="685.0" y="680.9" width="4.0" height="9.8" fill="#f7a9a7"/>
<rect x="690.0" y="664.9" width="4.0" height="25.8" fill="#f7a9a7"/>
<rect x="695.0" y="637.0" width="4.0" height="53.7" fill="#92d2cc"/>
<rect x="700.0" y="661.8" width="5.0" height="28.9" fill="#f7a9a7"/>
<rect x="706.0" y="670.8" width="4.0" height="19.9" fill="#f7a9a7"/>
<rect x="711.0" y="672.8" width="4.0" height="17.9" fill="#f7a9a7"/>
<rect x="716.0" y="666.9" width="4.0" height="23.8" fill="#f7a9a7"/>
<rect x="721.0" y="682.9" width="5.0" height="7.8" fill="#f7a9a7"/>
<rect x="727.0" y="679.9" width="4.0" height="10.8" fill="#92d2cc"/>
<rect x="732.0" y="674.8" width="4.0" height="15.9" fill="#92d2cc"/>
<rect x="737.0" y="676.9" width="4.0" height="13.8" fill="#f7a9a7"/>
<rect x="742.0" y="668.7" width="5.0" height="22.0" fill="#92d2cc"/>
<rect x="748.0" y="675.8" width="4.0" height="14.9" fill="#f7a9a7"/>
<rect x="753.0" y="676.9" width="4.0" height="13.8" fill="#92d2cc"/>
<rect x="758.0" y="684.8" width="4.0" height="5.9" fill="#92d2cc"/>
<rect x="763.0" y="683.8" width="5.0" height="6.9" fill="#f7a9a7"/>
<rect x="769.0" y="677.9" width="4.0" height="12.8" fill="#f7a9a7"/>
<rect x="774.0" y="672.8" width="4.0" height="17.9" fill="#f7a9a7"/>
<rect x="779.0" y="677.9" width="4.0" height="12.8" fill="#92d2cc"/>
<rect x="784.0" y="677.9" width="5.0" height="12.8" fill="#92d2cc"/>
<rect x="790.0" y="666.8" width="4.0" height="23.9" fill="#f7a9a7"/>
<rect x="795.0" y="681.8" width="4.0" height="8.9" fill="#92d2cc"/>
<rect x="800.0" y="681.8" width="5.0" height="8.9" fill="#f7a9a7"/>
<rect x="806.0" y="667.8" width="4.0" height="22.9" fill="#f7a9a7"/>
<rect x="811.0" y="634.8" width="4.0" height="55.9" fill="#f7a9a7"/>
<rect x="816.0" y="649.9" width="4.0" height="40.8" fill="#f7a9a7"/>
<rect x="821.0" y="659.9" width="5.0" height="30.8" fill="#92d2cc"/>
<rect x="827.0" y="630.9" width="4.0" height="59.8" fill="#f7a9a7"/>
<rect x="832.0" y="671.9" width="4.0" height="18.8" fill="#92d2cc"/>
<rect x="837.0" y="650.9" width="4.0" height="39.8" fill="#92d2cc"/>
<rect x="842.0" y="648.0" width="5.0" height="42.7" fill="#f7a9a7"/>
<rect x="848.0" y="650.9" width="4.0" height="39.8" fill="#92d2cc"/>
<rect x="853.0" y="663.0" width="4.0" height="27.7" fill="#92d2cc"/>
<rect x="858.0" y="665.9" width="4.0" height="24.8" fill="#f7a9a7"/>
<rect x="863.0" y="649.0" width="5.0" height="41.7" fill="#f7a9a7"/>
<rect x="869.0" y="680.8" width="4.0" height="9.9" fill="#f7a9a7"/>
<rect x="874.0" y="670.9" width="4.0" height="19.8" fill="#f7a9a7"/>
<rect x="879.0" y="655.8" width="4.0" height="34.9" fill="#f7a9a7"/>
<rect x="884.0" y="655.8" width="5.0" height="34.9" fill="#92d2cc"/>
<rect x="890.0" y="666.8" width="4.0" height="23.9" fill="#92d2cc"/>
<rect x="895.0" y="669.9" width="4.0" height="20.8" fill="#f7a9a7"/>
<rect x="900.0" y="670.9" width="5.0" height="19.8" fill="#92d2cc"/>
<rect x="906.0" y="681.8" width="4.0" height="8.9" fill="#92d2cc"/>
<rect x="911.0" y="676.9" width="4.0" height="13.8" fill="#f7a9a7"/>
<rect x="916.0" y="677.9" width="4.0" height="12.8" fill="#92d2cc"/>
<rect x="921.0" y="676.9" width="5.0" height="13.8" fill="#f7a9a7"/>
<rect x="927.0" y="669.9" width="4.0" height="20.8" fill="#92d2cc"/>
<rect x="932.0" y="673.8" width="4.0" height="16.9" fill="#f7a9a7"/>
<rect x="937.0" y="680.8" width="4.0" height="9.9" fill="#f7a9a7"/>
<rect x="942.0" y="685.7" width="5.0" height="5.0" fill="#f7a9a7"/>
<rect x="948.0" y="683.9" width="4.0" height="6.8" fill="#92d2cc"/>
<rect x="953.0" y="668.8" width="4.0" height="21.9" fill="#92d2cc"/>
<rect x="958.0" y="673.8" width="4.0" height="16.9" fill="#f7a9a7"/>
<rect x="963.0" y="676.9" width="5.0" height="13.8" fill="#f7a9a7"/>
<rect x="969.0" y="677.9" width="4.0" height="12.8" fill="#92d2cc"/>
<rect x="974.0" y="670.9" width="4.0" height="19.8" fill="#f7a9a7"/>
<rect x="979.0" y="681.8" width="4.0" height="8.9" fill="#f7a9a7"/>
<rect x="984.0" y="682.8" width="5.0" height="7.9" fill="#f7a9a7"/>
<rect x="990.0" y="674.8" width="4.0" height="15.9" fill="#92d2cc"/>
<rect x="995.0" y="675.8" width="4.0" height="14.9" fill="#92d2cc"/>
<rect x="1000.0" y="661.8" width="4.0" height="28.9" fill="#f7a9a7"/>
<rect x="1005.0" y="670.9" width="5.0" height="19.8" fill="#92d2cc"/>
<rect x="1011.0" y="666.8" width="4.0" height="23.9" fill="#92d2cc"/>
<rect x="1016.0" y="682.8" width="4.0" height="7.9" fill="#f7a9a7"/>
<rect x="1021.0" y="669.9" width="5.0" height="20.8" fill="#f7a9a7"/>
<rect x="1027.0" y="634.8" width="4.0" height="55.9" fill="#92d2cc"/>
<rect x="1032.0" y="664.9" width="4.0" height="25.8" fill="#f7a9a7"/>
<rect x="1037.0" y="636.9" width="4.0" height="53.8" fill="#92d2cc"/>
<rect x="1042.0" y="665.9" width="5.0" height="24.8" fill="#f7a9a7"/>
<rect x="1048.0" y="665.9" width="4.0" height="24.8" fill="#92d2cc"/>
<rect x="1053.0" y="676.9" width="4.0" height="13.8" fill="#92d2cc"/>
<rect x="1058.0" y="671.9" width="4.0" height="18.8" fill="#f7a9a7"/>
<rect x="1063.0" y="669.9" width="5.0" height="20.8" fill="#92d2cc"/>
<rect x="1069.0" y="674.8" width="4.0" height="15.9" fill="#f7a9a7"/>
<rect x="1074.0" y="674.8" width="4.0" height="15.9" fill="#92d2cc"/>
<rect x="1079.0" y="686.8" width="4.0" height="3.9" fill="#92d2cc"/>
<line x1="250.0" y1="281.0" x2="1704.0" y2="281.0" stroke="#ee1f3a" stroke-width="2" stroke-dasharray="10 12" />
<line x1="13.0" y1="356.0" x2="1704.0" y2="356.0" stroke="#ee1f3a" stroke-width="2" stroke-dasharray="10 12" />
<line x1="13.0" y1="463.0" x2="1704.0" y2="463.0" stroke="#ff9800" stroke-width="2" stroke-dasharray="10 12" />
<path d="M13.2 439.5C20.4 439.2 19.3 439.3 34.8 438.7C50.3 438.1 40.6 438.4 59.6 437.7C78.6 437.0 75.4 437.4 91.9 436.7C108.4 436.0 95.2 436.6 109.2 435.5C123.2 434.4 117.5 434.8 134.0 433.5C150.5 432.2 142.2 432.9 158.8 431.5C175.4 430.1 168.8 430.6 183.7 429.3C198.6 428.0 190.3 428.7 203.5 427.6C216.7 426.5 211.7 427.2 223.3 426.1C234.9 425.0 228.3 425.9 238.2 424.3C248.1 422.7 243.2 424.0 253.1 421.4C263.0 418.8 258.1 419.7 268.0 416.4C277.9 413.1 273.0 414.7 282.9 411.4C292.8 408.1 287.9 410.0 297.8 406.5C307.7 403.0 302.8 404.4 312.7 400.8C322.6 397.2 317.6 399.3 327.5 395.8C337.4 392.3 332.5 393.9 342.4 390.4C352.3 386.9 347.4 388.8 357.3 385.2C367.2 381.6 362.3 383.4 372.2 379.7C382.1 376.0 377.2 377.6 387.1 374.0C397.0 370.4 392.1 372.5 402.0 369.0C411.9 365.5 406.9 367.1 416.8 363.6C426.7 360.1 421.8 361.8 431.7 358.6C441.6 355.4 433.9 357.8 446.6 353.9C459.3 350.0 454.6 351.2 469.8 346.8C485.0 342.4 478.1 344.1 492.2 340.6C506.3 337.1 499.6 338.8 512.0 336.2C524.4 333.6 517.0 335.6 529.4 332.7C541.8 329.8 536.0 330.6 549.2 327.5C562.4 324.4 555.0 326.1 569.1 323.3C583.2 320.5 579.8 321.3 591.4 319.0C603.0 316.7 594.7 318.6 603.8 316.3C612.9 314.0 608.8 314.9 618.7 312.1C628.6 309.3 623.7 310.6 633.6 307.9C643.5 305.2 638.6 306.5 648.5 303.9C658.4 301.3 653.5 302.8 663.4 300.2C673.3 297.6 667.5 298.9 678.2 296.2C688.9 293.5 684.0 294.5 695.6 292.2C707.2 289.9 701.4 291.2 713.0 289.3C724.6 287.4 718.7 288.3 730.3 286.5C741.9 284.7 736.1 285.4 747.7 283.8C759.3 282.2 753.5 283.1 765.1 281.6C776.7 280.1 771.7 280.7 782.4 279.4C793.1 278.1 787.4 278.5 797.3 277.6C807.2 276.7 802.3 277.0 812.2 276.6C822.1 276.2 817.2 276.5 827.1 276.4C837.0 276.3 832.1 276.5 842.0 276.4C851.9 276.3 847.0 276.3 856.9 276.2C866.8 276.1 861.8 276.1 871.7 276.2C881.6 276.3 877.2 276.3 886.6 276.5C896.0 276.7 888.9 276.6 900.0 276.8C911.1 277.0 905.0 276.8 920.0 277.0C935.0 277.2 928.3 277.0 945.0 277.3C961.7 277.6 951.7 277.3 970.0 277.8C988.3 278.3 980.0 278.2 1000.0 278.8C1020.0 279.4 1010.0 279.1 1030.0 279.6C1050.0 280.1 1042.5 279.9 1060.0 280.3C1077.5 280.7 1075.0 280.6 1082.5 280.7" fill="none" stroke="#000" stroke-width="3" stroke-linejoin="round" stroke-linecap="butt"/>
<rect x="13.0" y="401.3" width="1" height="19.3" fill="#089981"/>
<rect x="14.0" y="406.2" width="2.0" height="12.4" fill="#089981"/>
<rect x="18.0" y="397.0" width="1" height="10.9" fill="#089981"/>
<rect x="16.0" y="402.0" width="5.0" height="5.0" fill="#089981"/>
<rect x="23.0" y="399.0" width="1" height="5.0" fill="#089981"/>
<rect x="21.0" y="401.3" width="5.0" height="1.0" fill="#089981"/>
<rect x="29.0" y="400.0" width="1" height="3.8" fill="#f23645"/>
<rect x="27.0" y="401.3" width="5.0" height="2.5" fill="#f23645"/>
<rect x="34.0" y="402.9" width="1" height="16.9" fill="#f23645"/>
<rect x="32.0" y="402.9" width="5.0" height="14.9" fill="#f23645"/>
<rect x="39.0" y="412.2" width="1" height="24.8" fill="#f23645"/>
<rect x="37.0" y="417.1" width="5.0" height="16.6" fill="#f23645"/>
<rect x="45.0" y="423.1" width="1" height="14.6" fill="#f23645"/>
<rect x="43.0" y="432.8" width="5.0" height="1.0" fill="#f23645"/>
<rect x="50.0" y="429.0" width="1" height="9.6" fill="#089981"/>
<rect x="48.0" y="432.8" width="5.0" height="1.0" fill="#089981"/>
<rect x="55.0" y="422.1" width="1" height="12.9" fill="#089981"/>
<rect x="53.0" y="425.1" width="5.0" height="8.7" fill="#089981"/>
<rect x="60.0" y="423.1" width="1" height="4.0" fill="#f23645"/>
<rect x="58.0" y="424.9" width="5.0" height="1.0" fill="#f23645"/>
<rect x="66.0" y="418.9" width="1" height="8.1" fill="#089981"/>
<rect x="64.0" y="419.9" width="5.0" height="6.0" fill="#089981"/>
<rect x="71.0" y="410.0" width="1" height="14.9" fill="#f23645"/>
<rect x="69.0" y="420.1" width="5.0" height="4.8" fill="#f23645"/>
<rect x="76.0" y="418.1" width="1" height="7.9" fill="#f23645"/>
<rect x="74.0" y="423.9" width="5.0" height="1.0" fill="#f23645"/>
<rect x="81.0" y="422.1" width="1" height="13.9" fill="#f23645"/>
<rect x="79.0" y="424.1" width="5.0" height="10.9" fill="#f23645"/>
<rect x="87.0" y="430.0" width="1" height="14.9" fill="#f23645"/>
<rect x="85.0" y="434.3" width="5.0" height="2.7" fill="#f23645"/>
<rect x="92.0" y="417.1" width="1" height="20.8" fill="#089981"/>
<rect x="90.0" y="422.1" width="5.0" height="14.9" fill="#089981"/>
<rect x="97.0" y="416.1" width="1" height="6.7" fill="#089981"/>
<rect x="95.0" y="418.1" width="5.0" height="4.8" fill="#089981"/>
<rect x="102.0" y="417.1" width="1" height="7.7" fill="#f23645"/>
<rect x="100.0" y="418.1" width="5.0" height="2.8" fill="#f23645"/>
<rect x="108.0" y="397.0" width="1" height="25.9" fill="#089981"/>
<rect x="106.0" y="400.1" width="5.0" height="20.8" fill="#089981"/>
<rect x="113.0" y="388.1" width="1" height="19.8" fill="#089981"/>
<rect x="111.0" y="394.0" width="5.0" height="6.7" fill="#089981"/>
<rect x="118.0" y="385.1" width="1" height="10.9" fill="#089981"/>
<rect x="116.0" y="390.0" width="5.0" height="5.0" fill="#089981"/>
<rect x="123.0" y="388.1" width="1" height="7.9" fill="#f23645"/>
<rect x="121.0" y="390.0" width="5.0" height="1.8" fill="#f23645"/>
<rect x="129.0" y="381.1" width="1" height="11.9" fill="#089981"/>
<rect x="127.0" y="385.1" width="5.0" height="6.9" fill="#089981"/>
<rect x="134.0" y="383.1" width="1" height="4.8" fill="#f23645"/>
<rect x="132.0" y="384.9" width="5.0" height="1.0" fill="#f23645"/>
<rect x="139.0" y="379.1" width="1" height="7.9" fill="#089981"/>
<rect x="137.0" y="381.1" width="5.0" height="4.8" fill="#089981"/>
<rect x="145.0" y="378.1" width="1" height="16.7" fill="#f23645"/>
<rect x="143.0" y="381.1" width="5.0" height="11.7" fill="#f23645"/>
<rect x="150.0" y="389.1" width="1" height="7.7" fill="#089981"/>
<rect x="148.0" y="390.8" width="5.0" height="1.0" fill="#089981"/>
<rect x="155.0" y="391.0" width="1" height="13.9" fill="#f23645"/>
<rect x="153.0" y="391.0" width="5.0" height="5.8" fill="#f23645"/>
<rect x="160.0" y="382.1" width="1" height="14.7" fill="#089981"/>
<rect x="158.0" y="387.1" width="5.0" height="9.7" fill="#089981"/>
<rect x="166.0" y="383.1" width="1" height="19.8" fill="#f23645"/>
<rect x="164.0" y="387.1" width="5.0" height="9.7" fill="#f23645"/>
<rect x="171.0" y="391.0" width="1" height="6.9" fill="#089981"/>
<rect x="169.0" y="393.0" width="5.0" height="3.8" fill="#089981"/>
<rect x="176.0" y="386.1" width="1" height="8.7" fill="#089981"/>
<rect x="174.0" y="388.1" width="5.0" height="6.0" fill="#089981"/>
<rect x="181.0" y="374.2" width="1" height="15.7" fill="#089981"/>
<rect x="179.0" y="375.2" width="5.0" height="13.7" fill="#089981"/>
<rect x="187.0" y="351.9" width="1" height="24.7" fill="#089981"/>
<rect x="185.0" y="358.1" width="5.0" height="17.9" fill="#089981"/>
<rect x="192.0" y="355.8" width="1" height="9.7" fill="#f23645"/>
<rect x="190.0" y="358.1" width="5.0" height="3.0" fill="#f23645"/>
<rect x="197.0" y="358.1" width="1" height="18.6" fill="#f23645"/>
<rect x="195.0" y="359.7" width="5.0" height="14.3" fill="#f23645"/>
<rect x="202.0" y="364.9" width="1" height="17.5" fill="#f23645"/>
<rect x="200.0" y="373.4" width="5.0" height="5.2" fill="#f23645"/>
<rect x="208.0" y="376.4" width="1" height="4.2" fill="#f23645"/>
<rect x="206.0" y="377.9" width="5.0" height="1.0" fill="#f23645"/>
<rect x="213.0" y="379.2" width="1" height="11.0" fill="#f23645"/>
<rect x="211.0" y="379.2" width="5.0" height="4.5" fill="#f23645"/>
<rect x="218.0" y="377.9" width="1" height="17.5" fill="#f23645"/>
<rect x="216.0" y="383.1" width="5.0" height="6.5" fill="#f23645"/>
<rect x="223.0" y="372.1" width="1" height="18.4" fill="#089981"/>
<rect x="221.0" y="379.2" width="5.0" height="10.4" fill="#089981"/>
<rect x="229.0" y="335.1" width="1" height="44.5" fill="#089981"/>
<rect x="227.0" y="340.3" width="5.0" height="39.4" fill="#089981"/>
<rect x="234.0" y="331.8" width="1" height="14.9" fill="#089981"/>
<rect x="232.0" y="338.3" width="5.0" height="2.3" fill="#089981"/>
<rect x="239.0" y="330.1" width="1" height="9.5" fill="#089981"/>
<rect x="237.0" y="334.4" width="5.0" height="4.5" fill="#089981"/>
<rect x="244.0" y="332.1" width="1" height="6.9" fill="#089981"/>
<rect x="242.0" y="333.5" width="5.0" height="1.3" fill="#089981"/>
<rect x="250.0" y="303.2" width="1" height="30.5" fill="#089981"/>
<rect x="248.0" y="310.1" width="5.0" height="23.6" fill="#089981"/>
<rect x="255.0" y="252.1" width="1" height="58.4" fill="#089981"/>
<rect x="253.0" y="258.0" width="5.0" height="52.5" fill="#089981"/>
<rect x="260.0" y="250.1" width="1" height="29.5" fill="#f23645"/>
<rect x="258.0" y="258.0" width="5.0" height="4.7" fill="#f23645"/>
<rect x="266.0" y="229.0" width="1" height="44.7" fill="#089981"/>
<rect x="264.0" y="247.2" width="5.0" height="15.5" fill="#089981"/>
<rect x="271.0" y="238.3" width="1" height="31.2" fill="#f23645"/>
<rect x="269.0" y="247.2" width="5.0" height="19.4" fill="#f23645"/>
<rect x="276.0" y="238.3" width="1" height="29.2" fill="#089981"/>
<rect x="274.0" y="243.0" width="5.0" height="24.0" fill="#089981"/>
<rect x="281.0" y="238.3" width="1" height="10.1" fill="#f23645"/>
<rect x="279.0" y="243.0" width="5.0" height="4.2" fill="#f23645"/>
<rect x="287.0" y="240.3" width="1" height="17.4" fill="#f23645"/>
<rect x="285.0" y="246.2" width="5.0" height="4.4" fill="#f23645"/>
<rect x="292.0" y="233.2" width="1" height="19.4" fill="#089981"/>
<rect x="290.0" y="247.6" width="5.0" height="3.4" fill="#089981"/>
<rect x="297.0" y="224.8" width="1" height="23.1" fill="#089981"/>
<rect x="295.0" y="234.9" width="5.0" height="13.0" fill="#089981"/>
<rect x="302.0" y="219.2" width="1" height="20.8" fill="#089981"/>
<rect x="300.0" y="223.1" width="5.0" height="12.7" fill="#089981"/>
<rect x="308.0" y="192.7" width="1" height="30.9" fill="#089981"/>
<rect x="306.0" y="196.9" width="5.0" height="26.7" fill="#089981"/>
<rect x="313.0" y="189.3" width="1" height="15.2" fill="#089981"/>
<rect x="311.0" y="194.1" width="5.0" height="3.7" fill="#089981"/>
<rect x="318.0" y="192.7" width="1" height="12.2" fill="#f23645"/>
<rect x="316.0" y="194.1" width="5.0" height="7.6" fill="#f23645"/>
<rect x="323.0" y="196.1" width="1" height="16.9" fill="#089981"/>
<rect x="321.0" y="200.0" width="5.0" height="1.7" fill="#089981"/>
<rect x="329.0" y="194.1" width="1" height="38.3" fill="#f23645"/>
<rect x="327.0" y="200.0" width="5.0" height="31.9" fill="#f23645"/>
<rect x="334.0" y="218.0" width="1" height="26.5" fill="#f23645"/>
<rect x="332.0" y="231.2" width="5.0" height="6.6" fill="#f23645"/>
<rect x="339.0" y="204.2" width="1" height="33.6" fill="#089981"/>
<rect x="337.0" y="213.0" width="5.0" height="24.8" fill="#089981"/>
<rect x="344.0" y="207.9" width="1" height="11.8" fill="#f23645"/>
<rect x="342.0" y="213.0" width="5.0" height="2.0" fill="#f23645"/>
<rect x="350.0" y="194.9" width="1" height="20.9" fill="#089981"/>
<rect x="348.0" y="203.2" width="5.0" height="11.8" fill="#089981"/>
<rect x="355.0" y="203.2" width="1" height="7.6" fill="#f23645"/>
<rect x="353.0" y="203.2" width="5.0" height="6.8" fill="#f23645"/>
<rect x="360.0" y="200.0" width="1" height="13.8" fill="#089981"/>
<rect x="358.0" y="204.0" width="5.0" height="5.9" fill="#089981"/>
<rect x="366.0" y="198.1" width="1" height="23.8" fill="#f23645"/>
<rect x="364.0" y="204.0" width="5.0" height="9.8" fill="#f23645"/>
<rect x="371.0" y="209.9" width="1" height="16.9" fill="#089981"/>
<rect x="369.0" y="213.0" width="5.0" height="1.2" fill="#089981"/>
<rect x="376.0" y="193.4" width="1" height="27.5" fill="#089981"/>
<rect x="374.0" y="196.2" width="5.0" height="17.4" fill="#089981"/>
<rect x="381.0" y="160.9" width="1" height="84.7" fill="#f23645"/>
<rect x="379.0" y="196.2" width="5.0" height="10.6" fill="#f23645"/>
<rect x="387.0" y="175.1" width="1" height="36.5" fill="#089981"/>
<rect x="385.0" y="188.0" width="5.0" height="18.9" fill="#089981"/>
<rect x="392.0" y="184.1" width="1" height="9.6" fill="#089981"/>
<rect x="390.0" y="188.0" width="5.0" height="1.0" fill="#089981"/>
<rect x="397.0" y="177.8" width="1" height="16.7" fill="#089981"/>
<rect x="395.0" y="179.9" width="5.0" height="8.9" fill="#089981"/>
<rect x="402.0" y="179.0" width="1" height="43.5" fill="#f23645"/>
<rect x="400.0" y="179.9" width="5.0" height="24.8" fill="#f23645"/>
<rect x="408.0" y="197.1" width="1" height="25.5" fill="#f23645"/>
<rect x="406.0" y="204.0" width="5.0" height="4.6" fill="#f23645"/>
<rect x="413.0" y="175.1" width="1" height="38.5" fill="#089981"/>
<rect x="411.0" y="179.9" width="5.0" height="28.7" fill="#089981"/>
<rect x="418.0" y="170.9" width="1" height="19.9" fill="#f23645"/>
<rect x="416.0" y="179.9" width="5.0" height="7.9" fill="#f23645"/>
<rect x="423.0" y="175.1" width="1" height="16.5" fill="#089981"/>
<rect x="421.0" y="178.2" width="5.0" height="9.6" fill="#089981"/>
<rect x="429.0" y="170.1" width="1" height="12.7" fill="#f23645"/>
<rect x="427.0" y="178.0" width="5.0" height="1.0" fill="#f23645"/>
<rect x="434.0" y="154.2" width="1" height="24.5" fill="#089981"/>
<rect x="432.0" y="159.1" width="5.0" height="19.6" fill="#089981"/>
<rect x="439.0" y="138.0" width="1" height="27.5" fill="#089981"/>
<rect x="437.0" y="149.1" width="5.0" height="10.6" fill="#089981"/>
<rect x="444.0" y="133.9" width="1" height="18.6" fill="#089981"/>
<rect x="442.0" y="147.8" width="5.0" height="1.0" fill="#089981"/>
<rect x="450.0" y="146.1" width="1" height="40.5" fill="#f23645"/>
<rect x="448.0" y="147.8" width="5.0" height="38.0" fill="#f23645"/>
<rect x="455.0" y="169.2" width="1" height="44.4" fill="#f23645"/>
<rect x="453.0" y="184.9" width="5.0" height="18.9" fill="#f23645"/>
<rect x="460.0" y="197.9" width="1" height="36.8" fill="#089981"/>
<rect x="458.0" y="200.1" width="5.0" height="3.7" fill="#089981"/>
<rect x="466.0" y="190.0" width="1" height="18.6" fill="#f23645"/>
<rect x="464.0" y="200.1" width="5.0" height="4.6" fill="#f23645"/>
<rect x="471.0" y="203.0" width="1" height="19.6" fill="#f23645"/>
<rect x="469.0" y="203.8" width="5.0" height="14.0" fill="#f23645"/>
<rect x="476.0" y="208.0" width="1" height="25.5" fill="#f23645"/>
<rect x="474.0" y="217.0" width="5.0" height="2.9" fill="#f23645"/>
<rect x="481.0" y="190.0" width="1" height="36.6" fill="#089981"/>
<rect x="479.0" y="195.0" width="5.0" height="24.8" fill="#089981"/>
<rect x="487.0" y="188.8" width="1" height="13.0" fill="#089981"/>
<rect x="485.0" y="190.0" width="5.0" height="5.9" fill="#089981"/>
<rect x="492.0" y="186.9" width="1" height="29.7" fill="#f23645"/>
<rect x="490.0" y="190.0" width="5.0" height="23.6" fill="#f23645"/>
<rect x="497.0" y="202.1" width="1" height="24.6" fill="#f23645"/>
<rect x="495.0" y="212.9" width="5.0" height="10.0" fill="#f23645"/>
<rect x="502.0" y="213.1" width="1" height="9.8" fill="#089981"/>
<rect x="500.0" y="216.1" width="5.0" height="6.8" fill="#089981"/>
<rect x="508.0" y="216.1" width="1" height="14.7" fill="#f23645"/>
<rect x="506.0" y="216.1" width="5.0" height="10.5" fill="#f23645"/>
<rect x="513.0" y="218.2" width="1" height="21.6" fill="#f23645"/>
<rect x="511.0" y="225.9" width="5.0" height="6.8" fill="#f23645"/>
<rect x="518.0" y="209.9" width="1" height="26.5" fill="#089981"/>
<rect x="516.0" y="227.1" width="5.0" height="5.6" fill="#089981"/>
<rect x="523.0" y="217.1" width="1" height="13.5" fill="#089981"/>
<rect x="521.0" y="221.0" width="5.0" height="6.8" fill="#089981"/>
<rect x="529.0" y="199.9" width="1" height="21.8" fill="#089981"/>
<rect x="527.0" y="206.1" width="5.0" height="15.5" fill="#089981"/>
<rect x="534.0" y="193.0" width="1" height="17.7" fill="#089981"/>
<rect x="532.0" y="198.0" width="5.0" height="8.9" fill="#089981"/>
<rect x="539.0" y="194.0" width="1" height="7.6" fill="#089981"/>
<rect x="537.0" y="197.4" width="5.0" height="1.0" fill="#089981"/>
<rect x="544.0" y="194.0" width="1" height="10.0" fill="#089981"/>
<rect x="542.0" y="197.0" width="5.0" height="1.0" fill="#089981"/>
<rect x="550.0" y="171.0" width="1" height="28.9" fill="#089981"/>
<rect x="548.0" y="172.9" width="5.0" height="24.8" fill="#089981"/>
<rect x="555.0" y="169.0" width="1" height="41.7" fill="#f23645"/>
<rect x="553.0" y="172.9" width="5.0" height="33.8" fill="#f23645"/>
<rect x="560.0" y="203.9" width="1" height="29.7" fill="#f23645"/>
<rect x="558.0" y="206.1" width="5.0" height="12.3" fill="#f23645"/>
<rect x="565.0" y="216.3" width="1" height="25.3" fill="#f23645"/>
<rect x="563.0" y="218.0" width="5.0" height="15.7" fill="#f23645"/>
<rect x="571.0" y="212.9" width="1" height="22.8" fill="#089981"/>
<rect x="569.0" y="220.0" width="5.0" height="13.7" fill="#089981"/>
<rect x="576.0" y="218.0" width="1" height="6.8" fill="#f23645"/>
<rect x="574.0" y="220.5" width="5.0" height="1.0" fill="#f23645"/>
<rect x="581.0" y="214.9" width="1" height="10.6" fill="#f23645"/>
<rect x="579.0" y="220.8" width="5.0" height="1.0" fill="#f23645"/>
<rect x="587.0" y="212.0" width="1" height="32.6" fill="#f23645"/>
<rect x="585.0" y="221.0" width="5.0" height="1.0" fill="#f23645"/>
<rect x="592.0" y="203.1" width="1" height="18.6" fill="#089981"/>
<rect x="590.0" y="208.2" width="5.0" height="13.5" fill="#089981"/>
<rect x="597.0" y="182.0" width="1" height="26.7" fill="#089981"/>
<rect x="595.0" y="183.0" width="5.0" height="25.7" fill="#089981"/>
<rect x="602.0" y="181.2" width="1" height="21.6" fill="#f23645"/>
<rect x="600.0" y="183.0" width="5.0" height="4.9" fill="#f23645"/>
<rect x="608.0" y="149.9" width="1" height="38.0" fill="#089981"/>
<rect x="606.0" y="161.1" width="5.0" height="26.8" fill="#089981"/>
<rect x="613.0" y="155.0" width="1" height="16.9" fill="#089981"/>
<rect x="611.0" y="158.0" width="5.0" height="3.9" fill="#089981"/>
<rect x="618.0" y="145.9" width="1" height="42.9" fill="#f23645"/>
<rect x="616.0" y="158.0" width="5.0" height="20.8" fill="#f23645"/>
<rect x="623.0" y="126.3" width="1" height="62.4" fill="#089981"/>
<rect x="621.0" y="172.0" width="5.0" height="6.8" fill="#089981"/>
<rect x="629.0" y="141.2" width="1" height="44.4" fill="#089981"/>
<rect x="627.0" y="147.9" width="5.0" height="25.0" fill="#089981"/>
<rect x="634.0" y="145.9" width="1" height="19.7" fill="#f23645"/>
<rect x="632.0" y="147.9" width="5.0" height="16.0" fill="#f23645"/>
<rect x="639.0" y="144.0" width="1" height="34.8" fill="#089981"/>
<rect x="637.0" y="162.3" width="5.0" height="1.7" fill="#089981"/>
<rect x="644.0" y="142.0" width="1" height="27.0" fill="#089981"/>
<rect x="642.0" y="156.0" width="5.0" height="6.8" fill="#089981"/>
<rect x="650.0" y="153.0" width="1" height="7.9" fill="#f23645"/>
<rect x="648.0" y="156.0" width="5.0" height="1.0" fill="#f23645"/>
<rect x="655.0" y="152.1" width="1" height="18.6" fill="#f23645"/>
<rect x="653.0" y="156.9" width="5.0" height="13.8" fill="#f23645"/>
<rect x="660.0" y="166.0" width="1" height="34.8" fill="#f23645"/>
<rect x="658.0" y="170.2" width="5.0" height="4.7" fill="#f23645"/>
<rect x="665.0" y="163.1" width="1" height="21.6" fill="#f23645"/>
<rect x="663.0" y="174.1" width="5.0" height="4.7" fill="#f23645"/>
<rect x="671.0" y="157.2" width="1" height="21.6" fill="#089981"/>
<rect x="669.0" y="163.1" width="5.0" height="15.7" fill="#089981"/>
<rect x="676.0" y="145.3" width="1" height="20.6" fill="#089981"/>
<rect x="674.0" y="157.1" width="5.0" height="6.8" fill="#089981"/>
<rect x="681.0" y="149.1" width="1" height="27.7" fill="#f23645"/>
<rect x="679.0" y="157.1" width="5.0" height="14.7" fill="#f23645"/>
<rect x="687.0" y="168.9" width="1" height="16.0" fill="#f23645"/>
<rect x="685.0" y="170.9" width="5.0" height="13.2" fill="#f23645"/>
<rect x="692.0" y="177.0" width="1" height="33.8" fill="#f23645"/>
<rect x="690.0" y="183.2" width="5.0" height="18.6" fill="#f23645"/>
<rect x="697.0" y="170.9" width="1" height="70.9" fill="#089981"/>
<rect x="695.0" y="178.2" width="5.0" height="23.6" fill="#089981"/>
<rect x="702.0" y="175.6" width="1" height="35.1" fill="#f23645"/>
<rect x="700.0" y="178.2" width="5.0" height="23.6" fill="#f23645"/>
<rect x="708.0" y="192.0" width="1" height="18.7" fill="#f23645"/>
<rect x="706.0" y="200.9" width="5.0" height="7.9" fill="#f23645"/>
<rect x="713.0" y="192.0" width="1" height="21.9" fill="#f23645"/>
<rect x="711.0" y="207.7" width="5.0" height="1.0" fill="#f23645"/>
<rect x="718.0" y="186.1" width="1" height="27.5" fill="#f23645"/>
<rect x="716.0" y="207.7" width="5.0" height="1.0" fill="#f23645"/>
<rect x="723.0" y="206.0" width="1" height="7.9" fill="#f23645"/>
<rect x="721.0" y="208.5" width="5.0" height="1.0" fill="#f23645"/>
<rect x="729.0" y="203.0" width="1" height="16.9" fill="#089981"/>
<rect x="727.0" y="208.5" width="5.0" height="1.0" fill="#089981"/>
<rect x="734.0" y="197.1" width="1" height="18.7" fill="#089981"/>
<rect x="732.0" y="203.0" width="5.0" height="6.9" fill="#089981"/>
<rect x="739.0" y="195.9" width="1" height="23.1" fill="#f23645"/>
<rect x="737.0" y="203.0" width="5.0" height="10.6" fill="#f23645"/>
<rect x="744.0" y="197.9" width="1" height="25.8" fill="#089981"/>
<rect x="742.0" y="200.1" width="5.0" height="13.5" fill="#089981"/>
<rect x="750.0" y="198.8" width="1" height="18.2" fill="#f23645"/>
<rect x="748.0" y="200.1" width="5.0" height="8.8" fill="#f23645"/>
<rect x="755.0" y="193.9" width="1" height="16.0" fill="#089981"/>
<rect x="753.0" y="202.3" width="5.0" height="6.6" fill="#089981"/>
<rect x="760.0" y="198.8" width="1" height="5.2" fill="#089981"/>
<rect x="758.0" y="201.8" width="5.0" height="1.2" fill="#089981"/>
<rect x="765.0" y="200.9" width="1" height="10.6" fill="#f23645"/>
<rect x="763.0" y="201.8" width="5.0" height="9.8" fill="#f23645"/>
<rect x="771.0" y="205.2" width="1" height="11.8" fill="#f23645"/>
<rect x="769.0" y="211.1" width="5.0" height="2.5" fill="#f23645"/>
<rect x="776.0" y="207.2" width="1" height="20.4" fill="#f23645"/>
<rect x="774.0" y="212.8" width="5.0" height="1.0" fill="#f23645"/>
<rect x="781.0" y="206.0" width="1" height="11.8" fill="#089981"/>
<rect x="779.0" y="208.0" width="5.0" height="6.8" fill="#089981"/>
<rect x="786.0" y="195.0" width="1" height="13.7" fill="#089981"/>
<rect x="784.0" y="197.1" width="5.0" height="11.6" fill="#089981"/>
<rect x="792.0" y="192.0" width="1" height="27.0" fill="#f23645"/>
<rect x="790.0" y="197.1" width="5.0" height="14.9" fill="#f23645"/>
<rect x="797.0" y="206.0" width="1" height="6.8" fill="#089981"/>
<rect x="795.0" y="208.0" width="5.0" height="3.9" fill="#089981"/>
<rect x="802.0" y="207.7" width="1" height="9.3" fill="#f23645"/>
<rect x="800.0" y="208.0" width="5.0" height="2.7" fill="#f23645"/>
<rect x="808.0" y="209.9" width="1" height="30.7" fill="#f23645"/>
<rect x="806.0" y="209.9" width="5.0" height="30.7" fill="#f23645"/>
<rect x="813.0" y="233.9" width="1" height="39.4" fill="#f23645"/>
<rect x="811.0" y="240.1" width="5.0" height="18.4" fill="#f23645"/>
<rect x="818.0" y="253.2" width="1" height="44.3" fill="#f23645"/>
<rect x="816.0" y="257.9" width="5.0" height="28.6" fill="#f23645"/>
<rect x="823.0" y="268.1" width="1" height="26.6" fill="#089981"/>
<rect x="821.0" y="283.3" width="5.0" height="3.2" fill="#089981"/>
<rect x="829.0" y="280.7" width="1" height="41.2" fill="#f23645"/>
<rect x="827.0" y="283.0" width="5.0" height="2.3" fill="#f23645"/>
<rect x="834.0" y="271.2" width="1" height="16.1" fill="#089981"/>
<rect x="832.0" y="274.2" width="5.0" height="11.4" fill="#089981"/>
<rect x="839.0" y="218.5" width="1" height="61.9" fill="#089981"/>
<rect x="837.0" y="223.1" width="5.0" height="51.7" fill="#089981"/>
<rect x="844.0" y="222.0" width="1" height="57.5" fill="#f23645"/>
<rect x="842.0" y="223.1" width="5.0" height="50.6" fill="#f23645"/>
<rect x="850.0" y="256.2" width="1" height="46.4" fill="#089981"/>
<rect x="848.0" y="267.2" width="5.0" height="6.5" fill="#089981"/>
<rect x="855.0" y="243.2" width="1" height="29.3" fill="#089981"/>
<rect x="853.0" y="246.2" width="5.0" height="21.4" fill="#089981"/>
<rect x="860.0" y="232.2" width="1" height="30.1" fill="#f23645"/>
<rect x="858.0" y="246.2" width="5.0" height="4.0" fill="#f23645"/>
<rect x="865.0" y="241.3" width="1" height="40.3" fill="#f23645"/>
<rect x="863.0" y="249.7" width="5.0" height="20.7" fill="#f23645"/>
<rect x="871.0" y="269.3" width="1" height="10.2" fill="#f23645"/>
<rect x="869.0" y="270.2" width="5.0" height="3.5" fill="#f23645"/>
<rect x="876.0" y="271.2" width="1" height="39.8" fill="#f23645"/>
<rect x="874.0" y="273.3" width="5.0" height="35.4" fill="#f23645"/>
<rect x="881.0" y="286.1" width="1" height="41.2" fill="#f23645"/>
<rect x="879.0" y="308.0" width="5.0" height="13.5" fill="#f23645"/>
<rect x="886.0" y="290.3" width="1" height="43.5" fill="#089981"/>
<rect x="884.0" y="294.4" width="5.0" height="27.2" fill="#089981"/>
<rect x="892.0" y="284.2" width="1" height="24.2" fill="#089981"/>
<rect x="890.0" y="289.1" width="5.0" height="5.6" fill="#089981"/>
<rect x="897.0" y="286.0" width="1" height="26.3" fill="#f23645"/>
<rect x="895.0" y="289.1" width="5.0" height="16.6" fill="#f23645"/>
<rect x="902.0" y="279.5" width="1" height="27.2" fill="#089981"/>
<rect x="900.0" y="286.8" width="5.0" height="18.9" fill="#089981"/>
<rect x="908.0" y="283.0" width="1" height="6.5" fill="#089981"/>
<rect x="906.0" y="285.3" width="5.0" height="2.1" fill="#089981"/>
<rect x="913.0" y="281.6" width="1" height="18.1" fill="#f23645"/>
<rect x="911.0" y="285.3" width="5.0" height="11.4" fill="#f23645"/>
<rect x="918.0" y="281.6" width="1" height="15.1" fill="#089981"/>
<rect x="916.0" y="287.0" width="5.0" height="9.6" fill="#089981"/>
<rect x="923.0" y="287.0" width="1" height="17.5" fill="#f23645"/>
<rect x="921.0" y="287.0" width="5.0" height="8.6" fill="#f23645"/>
<rect x="929.0" y="268.1" width="1" height="27.5" fill="#089981"/>
<rect x="927.0" y="269.3" width="5.0" height="26.3" fill="#089981"/>
<rect x="934.0" y="265.1" width="1" height="23.7" fill="#f23645"/>
<rect x="932.0" y="269.3" width="5.0" height="17.2" fill="#f23645"/>
<rect x="939.0" y="281.6" width="1" height="10.2" fill="#f23645"/>
<rect x="937.0" y="285.6" width="5.0" height="1.1" fill="#f23645"/>
<rect x="944.0" y="284.2" width="1" height="5.8" fill="#f23645"/>
<rect x="942.0" y="286.5" width="5.0" height="1.8" fill="#f23645"/>
<rect x="950.0" y="273.7" width="1" height="14.9" fill="#089981"/>
<rect x="948.0" y="274.2" width="5.0" height="14.4" fill="#089981"/>
<rect x="955.0" y="257.1" width="1" height="20.7" fill="#089981"/>
<rect x="953.0" y="264.9" width="5.0" height="10.0" fill="#089981"/>
<rect x="960.0" y="258.8" width="1" height="14.0" fill="#f23645"/>
<rect x="958.0" y="264.9" width="5.0" height="1.2" fill="#f23645"/>
<rect x="965.0" y="259.7" width="1" height="16.3" fill="#f23645"/>
<rect x="963.0" y="265.8" width="5.0" height="3.9" fill="#f23645"/>
<rect x="971.0" y="264.1" width="1" height="11.4" fill="#089981"/>
<rect x="969.0" y="266.7" width="5.0" height="3.0" fill="#089981"/>
<rect x="976.0" y="264.9" width="1" height="25.1" fill="#f23645"/>
<rect x="974.0" y="266.7" width="5.0" height="18.9" fill="#f23645"/>
<rect x="981.0" y="283.3" width="1" height="18.8" fill="#f23645"/>
<rect x="979.0" y="285.1" width="5.0" height="11.7" fill="#f23645"/>
<rect x="986.0" y="290.0" width="1" height="13.0" fill="#f23645"/>
<rect x="984.0" y="296.0" width="5.0" height="1.8" fill="#f23645"/>
<rect x="992.0" y="288.3" width="1" height="15.8" fill="#089981"/>
<rect x="990.0" y="296.0" width="5.0" height="1.8" fill="#089981"/>
<rect x="997.0" y="277.2" width="1" height="19.6" fill="#089981"/>
<rect x="995.0" y="280.2" width="5.0" height="16.6" fill="#089981"/>
<rect x="1002.0" y="258.8" width="1" height="38.9" fill="#f23645"/>
<rect x="1000.0" y="280.2" width="5.0" height="17.5" fill="#f23645"/>
<rect x="1007.0" y="287.7" width="1" height="17.2" fill="#089981"/>
<rect x="1005.0" y="292.1" width="5.0" height="5.8" fill="#089981"/>
<rect x="1013.0" y="283.3" width="1" height="18.8" fill="#089981"/>
<rect x="1011.0" y="288.3" width="5.0" height="4.7" fill="#089981"/>
<rect x="1018.0" y="286.0" width="1" height="10.2" fill="#f23645"/>
<rect x="1016.0" y="288.3" width="5.0" height="2.5" fill="#f23645"/>
<rect x="1023.0" y="288.6" width="1" height="41.2" fill="#f23645"/>
<rect x="1021.0" y="290.0" width="5.0" height="32.4" fill="#f23645"/>
<rect x="1029.0" y="304.9" width="1" height="41.9" fill="#089981"/>
<rect x="1027.0" y="318.0" width="5.0" height="4.4" fill="#089981"/>
<rect x="1034.0" y="307.0" width="1" height="28.6" fill="#f23645"/>
<rect x="1032.0" y="318.0" width="5.0" height="17.5" fill="#f23645"/>
<rect x="1039.0" y="290.4" width="1" height="55.7" fill="#089981"/>
<rect x="1037.0" y="296.0" width="5.0" height="39.6" fill="#089981"/>
<rect x="1044.0" y="294.7" width="1" height="27.2" fill="#f23645"/>
<rect x="1042.0" y="296.0" width="5.0" height="19.8" fill="#f23645"/>
<rect x="1050.0" y="285.6" width="1" height="33.1" fill="#089981"/>
<rect x="1048.0" y="292.1" width="5.0" height="23.7" fill="#089981"/>
<rect x="1055.0" y="275.1" width="1" height="18.8" fill="#089981"/>
<rect x="1053.0" y="279.3" width="5.0" height="12.8" fill="#089981"/>
<rect x="1060.0" y="274.2" width="1" height="18.8" fill="#f23645"/>
<rect x="1058.0" y="279.3" width="5.0" height="10.2" fill="#f23645"/>
<rect x="1065.0" y="276.0" width="1" height="13.5" fill="#089981"/>
<rect x="1063.0" y="283.3" width="5.0" height="6.1" fill="#089981"/>
<rect x="1071.0" y="272.0" width="1" height="18.1" fill="#f23645"/>
<rect x="1069.0" y="283.3" width="5.0" height="6.1" fill="#f23645"/>
<rect x="1076.0" y="278.1" width="1" height="14.9" fill="#089981"/>
<rect x="1074.0" y="287.4" width="5.0" height="2.1" fill="#089981"/>
<rect x="1081.0" y="281.6" width="1" height="6.1" fill="#089981"/>
<rect x="1079.0" y="285.6" width="5.0" height="1.8" fill="#089981"/>
<line x1="218.0" y1="15.5" x2="1066.0" y2="15.5" stroke="#000" stroke-width="1" />
<line x1="218.0" y1="126.5" x2="1066.0" y2="126.5" stroke="#000" stroke-width="1" />
<line x1="218.0" y1="261.5" x2="1066.0" y2="261.5" stroke="#000" stroke-width="1" />
<line x1="218.0" y1="395.5" x2="1066.0" y2="395.5" stroke="#000" stroke-width="1" />
<line x1="223.0" y1="29.0" x2="1704.0" y2="29.0" stroke="#ff8f00" stroke-width="2" stroke-dasharray="2 4" />
<line x1="623.0" y1="126.0" x2="1704.0" y2="126.0" stroke="#4c1cae" stroke-width="2" stroke-dasharray="2 4" />
<line x1="839.0" y1="218.0" x2="1704.0" y2="218.0" stroke="#2962ff" stroke-width="2" stroke-dasharray="10 12" />
<line x1="276.0" y1="249.0" x2="1704.0" y2="249.0" stroke="#9a9a9a" stroke-width="2" stroke-dasharray="2 4" />
<line x1="13.0" y1="285.5" x2="1704.0" y2="285.5" stroke="#089981" stroke-width="1" stroke-dasharray="1 2" />
<line x1="829.0" y1="323.0" x2="1704.0" y2="323.0" stroke="#ffe61a" stroke-width="2" stroke-dasharray="2 4" />
<line x1="622.6" y1="122.5" x2="1066" y2="298.4" stroke="#000" stroke-width="2.4"/>
<path d="M1081.0 275.7C1081.1 274.1 1080.5 273.5 1081.4 270.8C1082.3 268.1 1081.6 269.1 1083.8 267.5C1086.0 265.9 1084.4 266.8 1087.9 265.9C1091.4 265.0 1090.1 266.2 1094.4 264.8C1098.7 263.4 1096.6 264.4 1100.9 261.8C1105.2 259.2 1103.1 259.8 1107.4 257.0C1111.7 254.2 1110.7 254.8 1113.9 253.4C1117.1 252.0 1114.4 252.5 1117.1 252.9C1119.8 253.3 1118.8 253.8 1122.0 254.5C1125.2 255.2 1123.6 255.5 1126.8 255.0C1130.0 254.5 1128.4 255.5 1131.7 252.9C1135.0 250.3 1133.3 252.1 1136.6 247.2C1139.9 242.3 1138.5 242.7 1141.5 238.3C1144.5 233.9 1142.8 235.3 1145.5 233.9C1148.2 232.5 1146.6 233.0 1149.6 234.2C1152.6 235.4 1150.7 234.8 1154.5 237.5C1158.3 240.2 1156.7 240.1 1161.0 242.4C1165.3 244.7 1163.2 244.3 1167.5 244.3C1171.8 244.3 1169.6 245.2 1173.9 242.4C1178.2 239.6 1176.9 240.8 1180.4 235.9C1183.9 231.0 1182.4 233.4 1184.5 227.7C1186.6 222.0 1185.9 221.8 1186.6 218.8" fill="none" stroke="#4caf50" stroke-width="1.1" stroke-linejoin="round"/>
<path d="M1098.4 289.1C1098.9 291.1 1098.4 290.6 1100.0 295.1C1101.6 299.6 1100.8 298.9 1103.3 302.5C1105.8 306.1 1104.4 305.5 1107.4 306.0C1110.4 306.5 1108.4 306.6 1112.2 304.1C1116.0 301.6 1114.9 301.8 1118.7 298.4C1122.5 295.0 1120.9 295.6 1123.6 294.0C1126.3 292.4 1124.6 292.6 1126.8 293.5C1129.0 294.4 1127.4 293.7 1130.1 296.8C1132.8 299.9 1131.8 301.4 1135.0 302.9C1138.2 304.4 1136.6 302.4 1139.8 301.2C1143.0 300.0 1142.0 299.3 1144.7 299.2C1147.4 299.1 1146.1 298.1 1148.0 300.8C1149.9 303.5 1148.8 302.7 1150.4 307.3C1152.0 311.9 1151.3 310.6 1152.8 314.6C1154.3 318.6 1154.1 317.7 1154.8 319.2" fill="none" stroke="#f23645" stroke-width="1.1" stroke-linejoin="round"/>
<circle cx="244.4" cy="418.6" r="0.9" fill="#4caf50" fill-opacity="0.8"/>
<circle cx="223.3" cy="433.5" r="0.9" fill="#f7525f" fill-opacity="0.8"/>
<circle cx="234" cy="441.7" r="0.9" fill="#4caf50" fill-opacity="0.8"/>
<circle cx="175.7" cy="442.2" r="0.9" fill="#f7525f" fill-opacity="0.8"/>
<circle cx="96.8" cy="440.5" r="0.9" fill="#4caf50" fill-opacity="0.8"/>
<circle cx="365.2" cy="387.9" r="0.9" fill="#f7525f" fill-opacity="0.8"/>
<circle cx="823.2" cy="192" r="0.9" fill="#f7525f" fill-opacity="0.8"/>
<circle cx="749.7" cy="222.9" r="0.9" fill="#f7525f" fill-opacity="0.8"/>
<circle cx="1049.5" cy="190.5" r="0.9" fill="#4caf50" fill-opacity="0.8"/>
<circle cx="1092" cy="429.8" r="0.9" fill="#4caf50" fill-opacity="0.8"/>
<text x="1076.4" y="19.9" font-size="15" fill="#131722" textLength="52.1" lengthAdjust="spacingAndGlyphs" stroke="#131722" stroke-width="0.2">141.40%</text>
<text x="1134.0" y="19.9" font-size="15" fill="#131722" textLength="83.8" lengthAdjust="spacingAndGlyphs" stroke="#131722" stroke-width="0.2">(127,287.74)</text>
<text x="1076.4" y="130.7" font-size="15" fill="#131722" textLength="52.1" lengthAdjust="spacingAndGlyphs" stroke="#131722" stroke-width="0.2">100.00%</text>
<text x="1134.0" y="130.7" font-size="15" fill="#131722" textLength="83.3" lengthAdjust="spacingAndGlyphs" stroke="#131722" stroke-width="0.2">(109,588.00)</text>
<text x="1075.4" y="264.9" font-size="15" fill="#131722" textLength="44.2" lengthAdjust="spacingAndGlyphs" stroke="#131722" stroke-width="0.2">50.00%</text>
<text x="1126.9" y="264.9" font-size="15" fill="#131722" textLength="73.9" lengthAdjust="spacingAndGlyphs" stroke="#131722" stroke-width="0.2">(88,211.50)</text>
<text x="1075.4" y="399.5" font-size="15" fill="#131722" textLength="37.1" lengthAdjust="spacingAndGlyphs" stroke="#131722" stroke-width="0.2">0.00%</text>
<text x="1119.6" y="399.5" font-size="15" fill="#131722" textLength="74.6" lengthAdjust="spacingAndGlyphs" stroke="#131722" stroke-width="0.2">(66,835.00)</text>
<text x="1664.5" y="209.8" font-size="15" fill="#2962ff" font-weight="bold" textLength="29.7" lengthAdjust="spacingAndGlyphs" stroke="#2962ff" stroke-width="0.2">High</text>
<text x="1634.0" y="348.0" font-size="15" fill="#ee1f3a" font-weight="bold" textLength="61.0" lengthAdjust="spacingAndGlyphs" stroke="#ee1f3a" stroke-width="0.2">Daily S/R</text>
<text x="1634.0" y="454.8" font-size="15" fill="#ff9800" font-weight="bold" textLength="61.0" lengthAdjust="spacingAndGlyphs" stroke="#ff9800" stroke-width="0.2">Daily S/R</text>
<text x="23.3" y="30.9" font-size="15" fill="#131722" textLength="45.3" lengthAdjust="spacingAndGlyphs" stroke="#131722" stroke-width="0.2">Bitcoin</text>
<text x="76.3" y="30.9" font-size="15" fill="#131722" textLength="4.4" lengthAdjust="spacingAndGlyphs" stroke="#131722" stroke-width="0.2">/</text>
<text x="87.2" y="30.9" font-size="15" fill="#131722" textLength="58.8" lengthAdjust="spacingAndGlyphs" stroke="#131722" stroke-width="0.2">TetherUS</text>
<text x="152.3" y="30.9" font-size="15" fill="#131722" stroke="#131722" stroke-width="0.2">·</text>
<text x="162.5" y="30.9" font-size="15" fill="#131722" textLength="15.2" lengthAdjust="spacingAndGlyphs" stroke="#131722" stroke-width="0.2">1D</text>
<text x="184.3" y="30.9" font-size="15" fill="#131722" stroke="#131722" stroke-width="0.2">·</text>
<text x="193.8" y="30.9" font-size="15" fill="#131722" textLength="55.4" lengthAdjust="spacingAndGlyphs" stroke="#131722" stroke-width="0.2">BINANCE</text>
<text x="259.8" y="30.9" font-size="15" fill="#131722" textLength="9.3" lengthAdjust="spacingAndGlyphs" stroke="#131722" stroke-width="0.2">O</text>
<text x="270.0" y="30.9" font-size="15" fill="#089981" textLength="65.0" lengthAdjust="spacingAndGlyphs" stroke="#089981" stroke-width="0.2">84,030.38</text>
<text x="345.4" y="30.9" font-size="15" fill="#131722" textLength="8.6" lengthAdjust="spacingAndGlyphs" stroke="#131722" stroke-width="0.2">H</text>
<text x="355.5" y="30.9" font-size="15" fill="#089981" textLength="65.0" lengthAdjust="spacingAndGlyphs" stroke="#089981" stroke-width="0.2">85,053.38</text>
<text x="430.5" y="30.9" font-size="15" fill="#131722" textLength="6.3" lengthAdjust="spacingAndGlyphs" stroke="#131722" stroke-width="0.2">L</text>
<text x="437.5" y="30.9" font-size="15" fill="#089981" textLength="65.0" lengthAdjust="spacingAndGlyphs" stroke="#089981" stroke-width="0.2">83,814.48</text>
<text x="513.3" y="30.9" font-size="15" fill="#131722" textLength="7.8" lengthAdjust="spacingAndGlyphs" stroke="#131722" stroke-width="0.2">C</text>
<text x="521.8" y="30.9" font-size="15" fill="#089981" textLength="63.5" lengthAdjust="spacingAndGlyphs" stroke="#089981" stroke-width="0.2">84,283.01</text>
<text x="597.2" y="30.9" font-size="15" fill="#089981" textLength="113.1" lengthAdjust="spacingAndGlyphs" stroke="#089981" stroke-width="0.2">+252.63 (+0.30%)</text>
<text x="1715.6" y="65.4" font-size="15" fill="#131722" textLength="73.4" lengthAdjust="spacingAndGlyphs" stroke="#131722" stroke-width="0.2">120,000.00</text>
<text x="1715.6" y="191.1" font-size="15" fill="#131722" textLength="73.4" lengthAdjust="spacingAndGlyphs" stroke="#131722" stroke-width="0.2">100,000.00</text>
<text x="1715.6" y="379.9" font-size="15" fill="#131722" textLength="66.0" lengthAdjust="spacingAndGlyphs" stroke="#131722" stroke-width="0.2">70,000.00</text>
<text x="1715.6" y="441.9" font-size="15" fill="#131722" textLength="66.0" lengthAdjust="spacingAndGlyphs" stroke="#131722" stroke-width="0.2">60,000.00</text>
<text x="1715.6" y="507.6" font-size="15" fill="#131722" textLength="37.1" lengthAdjust="spacingAndGlyphs" stroke="#131722" stroke-width="0.2">75.00</text>
<text x="1715.6" y="594.7" font-size="15" fill="#131722" textLength="37.1" lengthAdjust="spacingAndGlyphs" stroke="#131722" stroke-width="0.2">25.00</text>
<text x="1715.6" y="624.4" font-size="15" fill="#131722" textLength="34.1" lengthAdjust="spacingAndGlyphs" stroke="#131722" stroke-width="0.2">100 K</text>
<rect x="1709" y="11" width="88.5" height="32" rx="5" fill="#fff" stroke="#eceef2" stroke-width="1"/>
<text x="1720.2" y="31.7" font-size="15" fill="#131722" textLength="34.2" lengthAdjust="spacingAndGlyphs" stroke="#131722" stroke-width="0.2">USDT</text>
<path d="M1705 116.0H1794.6a2 2 0 0 1 2 2V135.0a2 2 0 0 1 -2 2H1705Z" fill="#673ab7"/>
<text x="1716.5" y="131.4" font-size="15" fill="#fff" textLength="74.2" lengthAdjust="spacingAndGlyphs" stroke="#fff" stroke-width="0.3">109,588.00</text>
<path d="M1705 190.0H1786.0a2 2 0 0 1 2 2V208.8a2 2 0 0 1 -2 2H1705Z" fill="#2962ff"/>
<text x="1715.6" y="205.3" font-size="15" fill="#fff" textLength="66.0" lengthAdjust="spacingAndGlyphs" stroke="#fff" stroke-width="0.3">95,000.00</text>
<path d="M1705 211.6H1786.0a2 2 0 0 1 2 2V230.0a2 2 0 0 1 -2 2H1705Z" fill="#9e9e9e"/>
<text x="1715.6" y="226.7" font-size="15" fill="#131722" textLength="66.0" lengthAdjust="spacingAndGlyphs" stroke="#131722" stroke-width="0.2">90,000.00</text>
<path d="M1705 233.0H1786.0a2 2 0 0 1 2 2V251.6a2 2 0 0 1 -2 2H1705Z" fill="#000"/>
<text x="1715.6" y="248.2" font-size="15" fill="#fff" textLength="66.0" lengthAdjust="spacingAndGlyphs" stroke="#fff" stroke-width="0.3">85,017.27</text>
<path d="M1705 254.5H1786.0a2 2 0 0 1 2 2V273.0a2 2 0 0 1 -2 2H1705Z" fill="#f23645"/>
<text x="1715.6" y="269.6" font-size="15" fill="#fff" textLength="66.0" lengthAdjust="spacingAndGlyphs" stroke="#fff" stroke-width="0.3">85,000.00</text>
<path d="M1705 275.6H1786.0a2 2 0 0 1 2 2V312.4a2 2 0 0 1 -2 2H1705Z" fill="#089981"/>
<text x="1715.6" y="290.0" font-size="15" fill="#fff" textLength="66.0" lengthAdjust="spacingAndGlyphs" stroke="#fff" stroke-width="0.3">84,283.01</text>
<text x="1716.6" y="308.2" font-size="15" fill="#c9ebe5" textLength="56.0" lengthAdjust="spacingAndGlyphs" stroke="#c9ebe5" stroke-width="0.2">13:45:41</text>
<path d="M1705 314.4H1786.0a2 2 0 0 1 2 2V332.5a2 2 0 0 1 -2 2H1705Z" fill="#ffeb3b"/>
<text x="1715.6" y="329.3" font-size="15" fill="#131722" textLength="66.0" lengthAdjust="spacingAndGlyphs" stroke="#131722" stroke-width="0.2">78,258.52</text>
<path d="M1705 346.3H1786.0a2 2 0 0 1 2 2V364.6a2 2 0 0 1 -2 2H1705Z" fill="#f23645"/>
<text x="1715.6" y="361.4" font-size="15" fill="#fff" textLength="66.0" lengthAdjust="spacingAndGlyphs" stroke="#fff" stroke-width="0.3">73,072.41</text>
<path d="M1705 451.7H1786.0a2 2 0 0 1 2 2V470.2a2 2 0 0 1 -2 2H1705Z" fill="#ff9800"/>
<text x="1715.6" y="466.8" font-size="15" fill="#131722" textLength="66.0" lengthAdjust="spacingAndGlyphs" stroke="#131722" stroke-width="0.2">56,022.01</text>
<path d="M1705 534.2H1756.6a2 2 0 0 1 2 2V552.5a2 2 0 0 1 -2 2H1705Z" fill="#7e57c2"/>
<text x="1715.6" y="549.2" font-size="15" fill="#fff" textLength="37.1" lengthAdjust="spacingAndGlyphs" stroke="#fff" stroke-width="0.3">51.47</text>
<path d="M1705 555.0H1756.6a2 2 0 0 1 2 2V573.6a2 2 0 0 1 -2 2H1705Z" fill="#fdd835"/>
<text x="1715.6" y="570.2" font-size="15" fill="#131722" textLength="37.1" lengthAdjust="spacingAndGlyphs" stroke="#131722" stroke-width="0.2">46.58</text>
<path d="M1705 670.2H1751.6a2 2 0 0 1 2 2V688.7a2 2 0 0 1 -2 2H1705Z" fill="#26a69a"/>
<text x="1715.6" y="685.4" font-size="15" fill="#fff" textLength="32.0" lengthAdjust="spacingAndGlyphs" stroke="#fff" stroke-width="0.3">4.2 K</text>
<text x="28.1" y="714.1" font-size="15" fill="#131722" textLength="22.8" lengthAdjust="spacingAndGlyphs" stroke="#131722" stroke-width="0.2">Oct</text>
<text x="190.4" y="714.1" font-size="15" fill="#131722" textLength="24.2" lengthAdjust="spacingAndGlyphs" stroke="#131722" stroke-width="0.2">Nov</text>
<text x="348.5" y="714.1" font-size="15" fill="#131722" textLength="24.0" lengthAdjust="spacingAndGlyphs" stroke="#131722" stroke-width="0.2">Dec</text>
<text x="506.6" y="714.1" font-size="15" fill="#131722" font-weight="bold" textLength="33.8" lengthAdjust="spacingAndGlyphs" stroke="#131722" stroke-width="0.2">2025</text>
<text x="675.2" y="714.1" font-size="15" fill="#131722" textLength="24.6" lengthAdjust="spacingAndGlyphs" stroke="#131722" stroke-width="0.2">Feb</text>
<text x="822.2" y="714.1" font-size="15" fill="#131722" textLength="24.6" lengthAdjust="spacingAndGlyphs" stroke="#131722" stroke-width="0.2">Mar</text>
<text x="985.9" y="714.1" font-size="15" fill="#131722" textLength="23.2" lengthAdjust="spacingAndGlyphs" stroke="#131722" stroke-width="0.2">Apr</text>
<text x="1142.5" y="714.1" font-size="15" fill="#131722" textLength="26.0" lengthAdjust="spacingAndGlyphs" stroke="#131722" stroke-width="0.2">May</text>
<text x="1307.5" y="714.1" font-size="15" fill="#131722" textLength="22.0" lengthAdjust="spacingAndGlyphs" stroke="#131722" stroke-width="0.2">Jun</text>
<text x="1467.0" y="714.1" font-size="15" fill="#131722" textLength="19.0" lengthAdjust="spacingAndGlyphs" stroke="#131722" stroke-width="0.2">Jul</text>
<text x="1627.2" y="714.1" font-size="15" fill="#131722" textLength="24.5" lengthAdjust="spacingAndGlyphs" stroke="#131722" stroke-width="0.2">Aug</text>
<g fill="#1a1a1a"><path d="M13.1 742h10v11.6h-5.4v-7.1h-4.6z"/><circle cx="26.6" cy="744.4" r="2.4"/><path d="M30.9 742h6.4l-4.5 11.6h-5.8z"/></g>
<text x="42.3" y="753.6" font-size="15.5" fill="#1a1a1a" textLength="87.0" lengthAdjust="spacingAndGlyphs" stroke="#1a1a1a" stroke-width="0.2">TradingView</text>
</svg></body></html>
